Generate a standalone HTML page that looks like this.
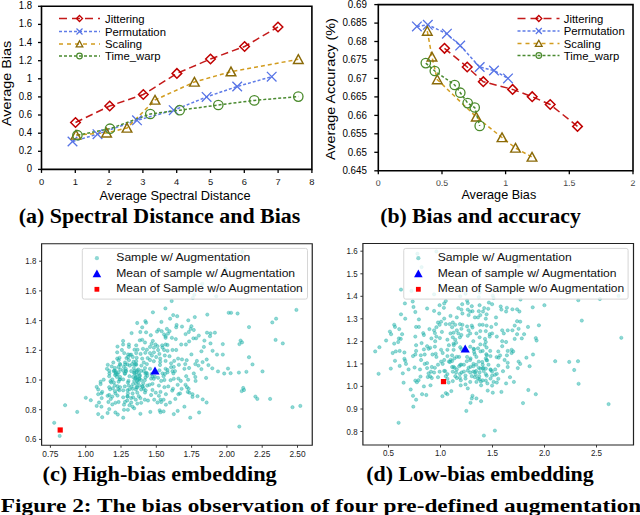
<!DOCTYPE html>
<html><head><meta charset="utf-8"><style>
html,body{margin:0;padding:0;background:#fff;width:640px;height:515px;overflow:hidden}
svg{display:block}
</style></head><body>
<svg width="640" height="515" viewBox="0 0 640 515">
<defs><clipPath id="cpa"><rect x="0" y="179.2" width="320" height="8"/></clipPath><clipPath id="cpb"><rect x="320" y="180.4" width="320" height="8"/></clipPath></defs>
<path d="M41.5 6.3H311.9V169.4H41.5Z" fill="none" stroke="#000" stroke-width="1.6"/>
<path d="M38.0 169.4H41.5" stroke="#000" stroke-width="1.3"/>
<text x="0" y="0" font-family='"Liberation Sans", sans-serif' font-size="9.6" font-weight="normal" fill="#000" text-anchor="end" transform="translate(32.0 172.4) scale(1 1.16)">0</text>
<path d="M38.0 151.3H41.5" stroke="#000" stroke-width="1.3"/>
<text x="0" y="0" font-family='"Liberation Sans", sans-serif' font-size="9.6" font-weight="normal" fill="#000" text-anchor="end" transform="translate(32.0 154.3) scale(1 1.16)">0.2</text>
<path d="M38.0 133.2H41.5" stroke="#000" stroke-width="1.3"/>
<text x="0" y="0" font-family='"Liberation Sans", sans-serif' font-size="9.6" font-weight="normal" fill="#000" text-anchor="end" transform="translate(32.0 136.2) scale(1 1.16)">0.4</text>
<path d="M38.0 115.0H41.5" stroke="#000" stroke-width="1.3"/>
<text x="0" y="0" font-family='"Liberation Sans", sans-serif' font-size="9.6" font-weight="normal" fill="#000" text-anchor="end" transform="translate(32.0 118.0) scale(1 1.16)">0.6</text>
<path d="M38.0 96.9H41.5" stroke="#000" stroke-width="1.3"/>
<text x="0" y="0" font-family='"Liberation Sans", sans-serif' font-size="9.6" font-weight="normal" fill="#000" text-anchor="end" transform="translate(32.0 99.9) scale(1 1.16)">0.8</text>
<path d="M38.0 78.8H41.5" stroke="#000" stroke-width="1.3"/>
<text x="0" y="0" font-family='"Liberation Sans", sans-serif' font-size="9.6" font-weight="normal" fill="#000" text-anchor="end" transform="translate(32.0 81.8) scale(1 1.16)">1</text>
<path d="M38.0 60.7H41.5" stroke="#000" stroke-width="1.3"/>
<text x="0" y="0" font-family='"Liberation Sans", sans-serif' font-size="9.6" font-weight="normal" fill="#000" text-anchor="end" transform="translate(32.0 63.7) scale(1 1.16)">1.2</text>
<path d="M38.0 42.5H41.5" stroke="#000" stroke-width="1.3"/>
<text x="0" y="0" font-family='"Liberation Sans", sans-serif' font-size="9.6" font-weight="normal" fill="#000" text-anchor="end" transform="translate(32.0 45.5) scale(1 1.16)">1.4</text>
<path d="M38.0 24.4H41.5" stroke="#000" stroke-width="1.3"/>
<text x="0" y="0" font-family='"Liberation Sans", sans-serif' font-size="9.6" font-weight="normal" fill="#000" text-anchor="end" transform="translate(32.0 27.4) scale(1 1.16)">1.6</text>
<path d="M38.0 6.3H41.5" stroke="#000" stroke-width="1.3"/>
<text x="0" y="0" font-family='"Liberation Sans", sans-serif' font-size="9.6" font-weight="normal" fill="#000" text-anchor="end" transform="translate(32.0 9.3) scale(1 1.16)">1.8</text>
<path d="M41.5 169.4V172.9" stroke="#000" stroke-width="1.3"/>
<text x="41.5" y="184.7" font-family='"Liberation Sans", sans-serif' font-size="9.4" font-weight="normal" fill="#111" text-anchor="middle" clip-path="url(#cpa)">0</text>
<path d="M75.3 169.4V172.9" stroke="#000" stroke-width="1.3"/>
<text x="75.3" y="184.7" font-family='"Liberation Sans", sans-serif' font-size="9.4" font-weight="normal" fill="#111" text-anchor="middle" clip-path="url(#cpa)">1</text>
<path d="M109.1 169.4V172.9" stroke="#000" stroke-width="1.3"/>
<text x="109.1" y="184.7" font-family='"Liberation Sans", sans-serif' font-size="9.4" font-weight="normal" fill="#111" text-anchor="middle" clip-path="url(#cpa)">2</text>
<path d="M142.9 169.4V172.9" stroke="#000" stroke-width="1.3"/>
<text x="142.9" y="184.7" font-family='"Liberation Sans", sans-serif' font-size="9.4" font-weight="normal" fill="#111" text-anchor="middle" clip-path="url(#cpa)">3</text>
<path d="M176.7 169.4V172.9" stroke="#000" stroke-width="1.3"/>
<text x="176.7" y="184.7" font-family='"Liberation Sans", sans-serif' font-size="9.4" font-weight="normal" fill="#111" text-anchor="middle" clip-path="url(#cpa)">4</text>
<path d="M210.5 169.4V172.9" stroke="#000" stroke-width="1.3"/>
<text x="210.5" y="184.7" font-family='"Liberation Sans", sans-serif' font-size="9.4" font-weight="normal" fill="#111" text-anchor="middle" clip-path="url(#cpa)">5</text>
<path d="M244.3 169.4V172.9" stroke="#000" stroke-width="1.3"/>
<text x="244.3" y="184.7" font-family='"Liberation Sans", sans-serif' font-size="9.4" font-weight="normal" fill="#111" text-anchor="middle" clip-path="url(#cpa)">6</text>
<path d="M278.1 169.4V172.9" stroke="#000" stroke-width="1.3"/>
<text x="278.1" y="184.7" font-family='"Liberation Sans", sans-serif' font-size="9.4" font-weight="normal" fill="#111" text-anchor="middle" clip-path="url(#cpa)">7</text>
<path d="M311.9 169.4V172.9" stroke="#000" stroke-width="1.3"/>
<text x="311.9" y="184.7" font-family='"Liberation Sans", sans-serif' font-size="9.4" font-weight="normal" fill="#111" text-anchor="middle" clip-path="url(#cpa)">8</text>
<text x="175" y="199.7" font-family='"Liberation Sans", sans-serif' font-size="13" font-weight="normal" fill="#000" text-anchor="middle" textLength="151" lengthAdjust="spacingAndGlyphs" >Average Spectral Distance</text>
<text x="0" y="0" font-family='"Liberation Sans", sans-serif' font-size="13" font-weight="normal" fill="#000" text-anchor="middle" textLength="85.3" lengthAdjust="spacingAndGlyphs" transform="translate(10.8 83.4) rotate(-90)">Average Bias</text>
<path d="M75.5 122.5L109.7 106.0L143.3 94.5L176.9 73.4L210.5 59.0L244.6 46.5L278.0 27.0" fill="none" stroke="#c41a1a" stroke-width="1.5" stroke-dasharray="7.5 4"/>
<path d="M72.5 141.5L97.5 134.2L137.0 120.3L173.8 110.2L206.6 96.9L237.2 86.5L271.7 76.7" fill="none" stroke="#5f7ce8" stroke-width="1.5" stroke-dasharray="3 2"/>
<path d="M76.0 135.0L106.6 132.9L127.0 128.0L155.0 100.0L194.4 82.0L231.0 71.7L298.3 59.3" fill="none" stroke="#d29c1e" stroke-width="1.5" stroke-dasharray="4 3"/>
<path d="M77.4 135.2L110.0 128.7L150.3 114.0L179.7 110.2L218.3 105.0L254.3 100.4L298.3 96.6" fill="none" stroke="#4a8a30" stroke-width="1.5" stroke-dasharray="3 2"/>
<path d="M75.5 117.7L80.3 122.5L75.5 127.3L70.7 122.5Z" fill="none" stroke="#c00000" stroke-width="1.5"/>
<path d="M109.7 101.2L114.5 106.0L109.7 110.8L104.9 106.0Z" fill="none" stroke="#c00000" stroke-width="1.5"/>
<path d="M143.3 89.7L148.1 94.5L143.3 99.3L138.5 94.5Z" fill="none" stroke="#c00000" stroke-width="1.5"/>
<path d="M176.9 68.6L181.7 73.4L176.9 78.2L172.1 73.4Z" fill="none" stroke="#c00000" stroke-width="1.5"/>
<path d="M210.5 54.2L215.3 59.0L210.5 63.8L205.7 59.0Z" fill="none" stroke="#c00000" stroke-width="1.5"/>
<path d="M244.6 41.7L249.4 46.5L244.6 51.3L239.8 46.5Z" fill="none" stroke="#c00000" stroke-width="1.5"/>
<path d="M278.0 22.2L282.8 27.0L278.0 31.8L273.2 27.0Z" fill="none" stroke="#c00000" stroke-width="1.5"/>
<path d="M67.7 136.7L77.3 146.3M77.3 136.7L67.7 146.3" stroke="#5673e6" stroke-width="1.3"/>
<path d="M92.7 129.4L102.3 139.0M102.3 129.4L92.7 139.0" stroke="#5673e6" stroke-width="1.3"/>
<path d="M132.2 115.5L141.8 125.1M141.8 115.5L132.2 125.1" stroke="#5673e6" stroke-width="1.3"/>
<path d="M168.9 105.4L178.6 115.0M178.6 105.4L168.9 115.0" stroke="#5673e6" stroke-width="1.3"/>
<path d="M201.8 92.1L211.4 101.7M211.4 92.1L201.8 101.7" stroke="#5673e6" stroke-width="1.3"/>
<path d="M232.4 81.7L242.0 91.3M242.0 81.7L232.4 91.3" stroke="#5673e6" stroke-width="1.3"/>
<path d="M266.9 71.9L276.5 81.5M276.5 71.9L266.9 81.5" stroke="#5673e6" stroke-width="1.3"/>
<path d="M76.0 130.4L80.8 139.1L71.2 139.1Z" fill="none" stroke="#8a6a08" stroke-width="1.45" stroke-linejoin="miter"/>
<path d="M106.6 128.3L111.4 137.0L101.8 137.0Z" fill="none" stroke="#8a6a08" stroke-width="1.45" stroke-linejoin="miter"/>
<path d="M127.0 123.4L131.8 132.1L122.2 132.1Z" fill="none" stroke="#8a6a08" stroke-width="1.45" stroke-linejoin="miter"/>
<path d="M155.0 95.4L159.8 104.1L150.2 104.1Z" fill="none" stroke="#8a6a08" stroke-width="1.45" stroke-linejoin="miter"/>
<path d="M194.4 77.4L199.2 86.1L189.6 86.1Z" fill="none" stroke="#8a6a08" stroke-width="1.45" stroke-linejoin="miter"/>
<path d="M231.0 67.1L235.8 75.8L226.2 75.8Z" fill="none" stroke="#8a6a08" stroke-width="1.45" stroke-linejoin="miter"/>
<path d="M298.3 54.7L303.1 63.4L293.5 63.4Z" fill="none" stroke="#8a6a08" stroke-width="1.45" stroke-linejoin="miter"/>
<circle cx="77.4" cy="135.2" r="4.7" fill="none" stroke="#4a8a2c" stroke-width="1.3"/>
<circle cx="110.0" cy="128.7" r="4.7" fill="none" stroke="#4a8a2c" stroke-width="1.3"/>
<circle cx="150.3" cy="114.0" r="4.7" fill="none" stroke="#4a8a2c" stroke-width="1.3"/>
<circle cx="179.7" cy="110.2" r="4.7" fill="none" stroke="#4a8a2c" stroke-width="1.3"/>
<circle cx="218.3" cy="105.0" r="4.7" fill="none" stroke="#4a8a2c" stroke-width="1.3"/>
<circle cx="254.3" cy="100.4" r="4.7" fill="none" stroke="#4a8a2c" stroke-width="1.3"/>
<circle cx="298.3" cy="96.6" r="4.7" fill="none" stroke="#4a8a2c" stroke-width="1.3"/>
<path d="M59 18.5H100" stroke="#c41a1a" stroke-width="1.5" stroke-dasharray="8 5"/>
<path d="M79.5 15.5L82.5 18.5L79.5 21.5L76.5 18.5Z" fill="none" stroke="#c00000" stroke-width="1.3"/>
<path d="M59 31.5H100" stroke="#5f7ce8" stroke-width="1.5" stroke-dasharray="3 2"/>
<path d="M76.5 28.5L82.5 34.5M82.5 28.5L76.5 34.5" stroke="#5673e6" stroke-width="1.2"/>
<path d="M59 44H100" stroke="#d29c1e" stroke-width="1.5" stroke-dasharray="4 4"/>
<path d="M79.5 40.8L82.8 46.9L76.2 46.9Z" fill="none" stroke="#8a6a08" stroke-width="1.3" stroke-linejoin="miter"/>
<path d="M59 56H100" stroke="#4a8a30" stroke-width="1.5" stroke-dasharray="3 2"/>
<circle cx="79.5" cy="56.0" r="2.8" fill="none" stroke="#4a8a2c" stroke-width="1.2"/>
<text x="105" y="22.5" font-family='"Liberation Sans", sans-serif' font-size="11.3" font-weight="normal" fill="#000" text-anchor="start" >Jittering</text>
<text x="105" y="35.5" font-family='"Liberation Sans", sans-serif' font-size="11.3" font-weight="normal" fill="#000" text-anchor="start" >Permutation</text>
<text x="105" y="48" font-family='"Liberation Sans", sans-serif' font-size="11.3" font-weight="normal" fill="#000" text-anchor="start" >Scaling</text>
<text x="105" y="60" font-family='"Liberation Sans", sans-serif' font-size="11.3" font-weight="normal" fill="#000" text-anchor="start" >Time_warp</text>
<path d="M378.3 4.6H633V170.75H378.3Z" fill="none" stroke="#000" stroke-width="1.6"/>
<path d="M374.3 170.8H378.3" stroke="#000" stroke-width="1.3"/>
<text x="0" y="0" font-family='"Liberation Sans", sans-serif' font-size="9.8" font-weight="normal" fill="#000" text-anchor="end" transform="translate(366.9 174.1) scale(1 1.15)">0.645</text>
<path d="M374.3 152.3H378.3" stroke="#000" stroke-width="1.3"/>
<text x="0" y="0" font-family='"Liberation Sans", sans-serif' font-size="9.8" font-weight="normal" fill="#000" text-anchor="end" transform="translate(366.9 155.6) scale(1 1.15)">0.65</text>
<path d="M374.3 133.8H378.3" stroke="#000" stroke-width="1.3"/>
<text x="0" y="0" font-family='"Liberation Sans", sans-serif' font-size="9.8" font-weight="normal" fill="#000" text-anchor="end" transform="translate(366.9 137.1) scale(1 1.15)">0.655</text>
<path d="M374.3 115.4H378.3" stroke="#000" stroke-width="1.3"/>
<text x="0" y="0" font-family='"Liberation Sans", sans-serif' font-size="9.8" font-weight="normal" fill="#000" text-anchor="end" transform="translate(366.9 118.7) scale(1 1.15)">0.66</text>
<path d="M374.3 96.9H378.3" stroke="#000" stroke-width="1.3"/>
<text x="0" y="0" font-family='"Liberation Sans", sans-serif' font-size="9.8" font-weight="normal" fill="#000" text-anchor="end" transform="translate(366.9 100.2) scale(1 1.15)">0.665</text>
<path d="M374.3 78.4H378.3" stroke="#000" stroke-width="1.3"/>
<text x="0" y="0" font-family='"Liberation Sans", sans-serif' font-size="9.8" font-weight="normal" fill="#000" text-anchor="end" transform="translate(366.9 81.7) scale(1 1.15)">0.67</text>
<path d="M374.3 60.0H378.3" stroke="#000" stroke-width="1.3"/>
<text x="0" y="0" font-family='"Liberation Sans", sans-serif' font-size="9.8" font-weight="normal" fill="#000" text-anchor="end" transform="translate(366.9 63.3) scale(1 1.15)">0.675</text>
<path d="M374.3 41.5H378.3" stroke="#000" stroke-width="1.3"/>
<text x="0" y="0" font-family='"Liberation Sans", sans-serif' font-size="9.8" font-weight="normal" fill="#000" text-anchor="end" transform="translate(366.9 44.8) scale(1 1.15)">0.68</text>
<path d="M374.3 23.1H378.3" stroke="#000" stroke-width="1.3"/>
<text x="0" y="0" font-family='"Liberation Sans", sans-serif' font-size="9.8" font-weight="normal" fill="#000" text-anchor="end" transform="translate(366.9 26.4) scale(1 1.15)">0.685</text>
<path d="M374.3 4.6H378.3" stroke="#000" stroke-width="1.3"/>
<text x="0" y="0" font-family='"Liberation Sans", sans-serif' font-size="9.8" font-weight="normal" fill="#000" text-anchor="end" transform="translate(366.9 7.9) scale(1 1.15)">0.69</text>
<path d="M378.3 170.75V174.25" stroke="#000" stroke-width="1.3"/>
<text x="378.3" y="185.8" font-family='"Liberation Sans", sans-serif' font-size="8.8" font-weight="normal" fill="#444" text-anchor="middle" clip-path="url(#cpb)">0</text>
<path d="M442.0 170.75V174.25" stroke="#000" stroke-width="1.3"/>
<text x="442.0" y="185.8" font-family='"Liberation Sans", sans-serif' font-size="8.8" font-weight="normal" fill="#444" text-anchor="middle" clip-path="url(#cpb)">0.5</text>
<path d="M505.6 170.75V174.25" stroke="#000" stroke-width="1.3"/>
<text x="505.6" y="185.8" font-family='"Liberation Sans", sans-serif' font-size="8.8" font-weight="normal" fill="#444" text-anchor="middle" clip-path="url(#cpb)">1</text>
<path d="M569.3 170.75V174.25" stroke="#000" stroke-width="1.3"/>
<text x="569.3" y="185.8" font-family='"Liberation Sans", sans-serif' font-size="8.8" font-weight="normal" fill="#444" text-anchor="middle" clip-path="url(#cpb)">1.5</text>
<path d="M633.0 170.75V174.25" stroke="#000" stroke-width="1.3"/>
<text x="633.0" y="185.8" font-family='"Liberation Sans", sans-serif' font-size="8.8" font-weight="normal" fill="#444" text-anchor="middle" clip-path="url(#cpb)">2</text>
<text x="498.8" y="198.7" font-family='"Liberation Sans", sans-serif' font-size="13" font-weight="normal" fill="#000" text-anchor="middle" textLength="74.8" lengthAdjust="spacingAndGlyphs" >Average Bias</text>
<text x="0" y="0" font-family='"Liberation Sans", sans-serif' font-size="13" font-weight="normal" fill="#000" text-anchor="middle" textLength="142" lengthAdjust="spacingAndGlyphs" transform="translate(335.2 89.1) rotate(-90)">Average Accuracy (%)</text>
<path d="M444.5 48.3L467.2 67.0L483.3 81.7L512.6 89.4L532.2 96.7L550.2 104.5L577.5 126.4" fill="none" stroke="#c41a1a" stroke-width="1.5" stroke-dasharray="7.5 4"/>
<path d="M416.9 26.4L427.8 24.8L446.9 33.8L460.2 45.6L479.7 67.0L494.0 70.5L508.0 78.4" fill="none" stroke="#5f7ce8" stroke-width="1.5" stroke-dasharray="3 2"/>
<path d="M427.3 31.1L432.0 56.9L437.3 79.6L476.2 116.9L502.0 137.5L515.5 148.0L532.0 157.0" fill="none" stroke="#d29c1e" stroke-width="1.5" stroke-dasharray="4 3"/>
<path d="M425.8 63.1L434.8 71.0L454.7 85.0L460.3 92.7L467.7 103.1L474.7 107.5L479.7 125.9" fill="none" stroke="#4a8a30" stroke-width="1.5" stroke-dasharray="3 2"/>
<path d="M444.5 43.5L449.3 48.3L444.5 53.1L439.7 48.3Z" fill="none" stroke="#c00000" stroke-width="1.5"/>
<path d="M467.2 62.2L472.0 67.0L467.2 71.8L462.4 67.0Z" fill="none" stroke="#c00000" stroke-width="1.5"/>
<path d="M483.3 76.9L488.1 81.7L483.3 86.5L478.5 81.7Z" fill="none" stroke="#c00000" stroke-width="1.5"/>
<path d="M512.6 84.6L517.4 89.4L512.6 94.2L507.8 89.4Z" fill="none" stroke="#c00000" stroke-width="1.5"/>
<path d="M532.2 91.9L537.0 96.7L532.2 101.5L527.4 96.7Z" fill="none" stroke="#c00000" stroke-width="1.5"/>
<path d="M550.2 99.7L555.0 104.5L550.2 109.3L545.4 104.5Z" fill="none" stroke="#c00000" stroke-width="1.5"/>
<path d="M577.5 121.6L582.3 126.4L577.5 131.2L572.7 126.4Z" fill="none" stroke="#c00000" stroke-width="1.5"/>
<path d="M412.1 21.6L421.7 31.2M421.7 21.6L412.1 31.2" stroke="#5673e6" stroke-width="1.3"/>
<path d="M423.0 20.0L432.6 29.6M432.6 20.0L423.0 29.6" stroke="#5673e6" stroke-width="1.3"/>
<path d="M442.1 28.9L451.7 38.5M451.7 28.9L442.1 38.5" stroke="#5673e6" stroke-width="1.3"/>
<path d="M455.4 40.8L465.0 50.4M465.0 40.8L455.4 50.4" stroke="#5673e6" stroke-width="1.3"/>
<path d="M474.9 62.2L484.5 71.8M484.5 62.2L474.9 71.8" stroke="#5673e6" stroke-width="1.3"/>
<path d="M489.2 65.7L498.8 75.3M498.8 65.7L489.2 75.3" stroke="#5673e6" stroke-width="1.3"/>
<path d="M503.2 73.6L512.8 83.2M512.8 73.6L503.2 83.2" stroke="#5673e6" stroke-width="1.3"/>
<path d="M427.3 26.5L432.1 35.2L422.5 35.2Z" fill="none" stroke="#8a6a08" stroke-width="1.45" stroke-linejoin="miter"/>
<path d="M432.0 52.3L436.8 61.0L427.2 61.0Z" fill="none" stroke="#8a6a08" stroke-width="1.45" stroke-linejoin="miter"/>
<path d="M437.3 75.0L442.1 83.7L432.5 83.7Z" fill="none" stroke="#8a6a08" stroke-width="1.45" stroke-linejoin="miter"/>
<path d="M476.2 112.3L481.0 121.0L471.5 121.0Z" fill="none" stroke="#8a6a08" stroke-width="1.45" stroke-linejoin="miter"/>
<path d="M502.0 132.9L506.8 141.6L497.2 141.6Z" fill="none" stroke="#8a6a08" stroke-width="1.45" stroke-linejoin="miter"/>
<path d="M515.5 143.4L520.3 152.1L510.7 152.1Z" fill="none" stroke="#8a6a08" stroke-width="1.45" stroke-linejoin="miter"/>
<path d="M532.0 152.4L536.8 161.1L527.2 161.1Z" fill="none" stroke="#8a6a08" stroke-width="1.45" stroke-linejoin="miter"/>
<circle cx="425.8" cy="63.1" r="4.7" fill="none" stroke="#4a8a2c" stroke-width="1.3"/>
<circle cx="434.8" cy="71.0" r="4.7" fill="none" stroke="#4a8a2c" stroke-width="1.3"/>
<circle cx="454.7" cy="85.0" r="4.7" fill="none" stroke="#4a8a2c" stroke-width="1.3"/>
<circle cx="460.3" cy="92.7" r="4.7" fill="none" stroke="#4a8a2c" stroke-width="1.3"/>
<circle cx="467.7" cy="103.1" r="4.7" fill="none" stroke="#4a8a2c" stroke-width="1.3"/>
<circle cx="474.7" cy="107.5" r="4.7" fill="none" stroke="#4a8a2c" stroke-width="1.3"/>
<circle cx="479.7" cy="125.9" r="4.7" fill="none" stroke="#4a8a2c" stroke-width="1.3"/>
<path d="M517.5 18.5H559.5" stroke="#c41a1a" stroke-width="1.5" stroke-dasharray="8 5"/>
<path d="M538.8 15.5L541.8 18.5L538.8 21.5L535.8 18.5Z" fill="none" stroke="#c00000" stroke-width="1.3"/>
<path d="M517.5 31H559.5" stroke="#5f7ce8" stroke-width="1.5" stroke-dasharray="3 2"/>
<path d="M535.8 28.0L541.8 34.0M541.8 28.0L535.8 34.0" stroke="#5673e6" stroke-width="1.2"/>
<path d="M517.5 43.5H559.5" stroke="#d29c1e" stroke-width="1.5" stroke-dasharray="4 4"/>
<path d="M538.8 40.3L542.1 46.4L535.4 46.4Z" fill="none" stroke="#8a6a08" stroke-width="1.3" stroke-linejoin="miter"/>
<path d="M517.5 55.5H559.5" stroke="#4a8a30" stroke-width="1.5" stroke-dasharray="3 2"/>
<circle cx="538.8" cy="55.5" r="2.8" fill="none" stroke="#4a8a2c" stroke-width="1.2"/>
<text x="563.75" y="22.5" font-family='"Liberation Sans", sans-serif' font-size="11.3" font-weight="normal" fill="#000" text-anchor="start" >Jittering</text>
<text x="563.75" y="35" font-family='"Liberation Sans", sans-serif' font-size="11.3" font-weight="normal" fill="#000" text-anchor="start" >Permutation</text>
<text x="563.75" y="47.5" font-family='"Liberation Sans", sans-serif' font-size="11.3" font-weight="normal" fill="#000" text-anchor="start" >Scaling</text>
<text x="563.75" y="59.5" font-family='"Liberation Sans", sans-serif' font-size="11.3" font-weight="normal" fill="#000" text-anchor="start" >Time_warp</text>
<circle cx="225.6" cy="269.0" r="1.65" fill="#20b2aa" fill-opacity="0.5" stroke="#20b2aa" stroke-opacity="0.5" stroke-width="0.7"/>
<circle cx="202.2" cy="283.8" r="1.65" fill="#20b2aa" fill-opacity="0.5" stroke="#20b2aa" stroke-opacity="0.5" stroke-width="0.7"/>
<circle cx="194.3" cy="294.8" r="1.65" fill="#20b2aa" fill-opacity="0.5" stroke="#20b2aa" stroke-opacity="0.5" stroke-width="0.7"/>
<circle cx="192.8" cy="297.9" r="1.65" fill="#20b2aa" fill-opacity="0.5" stroke="#20b2aa" stroke-opacity="0.5" stroke-width="0.7"/>
<circle cx="216.2" cy="296.3" r="1.65" fill="#20b2aa" fill-opacity="0.5" stroke="#20b2aa" stroke-opacity="0.5" stroke-width="0.7"/>
<circle cx="171.7" cy="301.0" r="1.65" fill="#20b2aa" fill-opacity="0.5" stroke="#20b2aa" stroke-opacity="0.5" stroke-width="0.7"/>
<circle cx="165.4" cy="308.4" r="1.65" fill="#20b2aa" fill-opacity="0.5" stroke="#20b2aa" stroke-opacity="0.5" stroke-width="0.7"/>
<circle cx="152.9" cy="312.3" r="1.65" fill="#20b2aa" fill-opacity="0.5" stroke="#20b2aa" stroke-opacity="0.5" stroke-width="0.7"/>
<circle cx="173.2" cy="315.1" r="1.65" fill="#20b2aa" fill-opacity="0.5" stroke="#20b2aa" stroke-opacity="0.5" stroke-width="0.7"/>
<circle cx="177.2" cy="316.2" r="1.65" fill="#20b2aa" fill-opacity="0.5" stroke="#20b2aa" stroke-opacity="0.5" stroke-width="0.7"/>
<circle cx="170.1" cy="318.7" r="1.65" fill="#20b2aa" fill-opacity="0.5" stroke="#20b2aa" stroke-opacity="0.5" stroke-width="0.7"/>
<circle cx="194.8" cy="317.1" r="1.65" fill="#20b2aa" fill-opacity="0.5" stroke="#20b2aa" stroke-opacity="0.5" stroke-width="0.7"/>
<circle cx="207.3" cy="314.6" r="1.65" fill="#20b2aa" fill-opacity="0.5" stroke="#20b2aa" stroke-opacity="0.5" stroke-width="0.7"/>
<circle cx="228.7" cy="312.8" r="1.65" fill="#20b2aa" fill-opacity="0.5" stroke="#20b2aa" stroke-opacity="0.5" stroke-width="0.7"/>
<circle cx="231.1" cy="312.8" r="1.65" fill="#20b2aa" fill-opacity="0.5" stroke="#20b2aa" stroke-opacity="0.5" stroke-width="0.7"/>
<circle cx="237.6" cy="313.5" r="1.65" fill="#20b2aa" fill-opacity="0.5" stroke="#20b2aa" stroke-opacity="0.5" stroke-width="0.7"/>
<circle cx="242.5" cy="251.8" r="1.65" fill="#20b2aa" fill-opacity="0.5" stroke="#20b2aa" stroke-opacity="0.5" stroke-width="0.7"/>
<circle cx="296.4" cy="309.9" r="1.65" fill="#20b2aa" fill-opacity="0.5" stroke="#20b2aa" stroke-opacity="0.5" stroke-width="0.7"/>
<circle cx="276.1" cy="318.7" r="1.65" fill="#20b2aa" fill-opacity="0.5" stroke="#20b2aa" stroke-opacity="0.5" stroke-width="0.7"/>
<circle cx="188.3" cy="320.3" r="1.65" fill="#20b2aa" fill-opacity="0.5" stroke="#20b2aa" stroke-opacity="0.5" stroke-width="0.7"/>
<circle cx="137.2" cy="323.0" r="1.65" fill="#20b2aa" fill-opacity="0.5" stroke="#20b2aa" stroke-opacity="0.5" stroke-width="0.7"/>
<circle cx="145.3" cy="321.1" r="1.65" fill="#20b2aa" fill-opacity="0.5" stroke="#20b2aa" stroke-opacity="0.5" stroke-width="0.7"/>
<circle cx="146.1" cy="322.7" r="1.65" fill="#20b2aa" fill-opacity="0.5" stroke="#20b2aa" stroke-opacity="0.5" stroke-width="0.7"/>
<circle cx="161.4" cy="321.9" r="1.65" fill="#20b2aa" fill-opacity="0.5" stroke="#20b2aa" stroke-opacity="0.5" stroke-width="0.7"/>
<circle cx="176.6" cy="325.0" r="1.65" fill="#20b2aa" fill-opacity="0.5" stroke="#20b2aa" stroke-opacity="0.5" stroke-width="0.7"/>
<circle cx="176.2" cy="327.3" r="1.65" fill="#20b2aa" fill-opacity="0.5" stroke="#20b2aa" stroke-opacity="0.5" stroke-width="0.7"/>
<circle cx="182.0" cy="326.6" r="1.65" fill="#20b2aa" fill-opacity="0.5" stroke="#20b2aa" stroke-opacity="0.5" stroke-width="0.7"/>
<circle cx="191.4" cy="326.2" r="1.65" fill="#20b2aa" fill-opacity="0.5" stroke="#20b2aa" stroke-opacity="0.5" stroke-width="0.7"/>
<circle cx="142.2" cy="327.3" r="1.65" fill="#20b2aa" fill-opacity="0.5" stroke="#20b2aa" stroke-opacity="0.5" stroke-width="0.7"/>
<circle cx="166.9" cy="328.9" r="1.65" fill="#20b2aa" fill-opacity="0.5" stroke="#20b2aa" stroke-opacity="0.5" stroke-width="0.7"/>
<circle cx="158.6" cy="329.7" r="1.65" fill="#20b2aa" fill-opacity="0.5" stroke="#20b2aa" stroke-opacity="0.5" stroke-width="0.7"/>
<circle cx="157.0" cy="331.6" r="1.65" fill="#20b2aa" fill-opacity="0.5" stroke="#20b2aa" stroke-opacity="0.5" stroke-width="0.7"/>
<circle cx="161.7" cy="331.2" r="1.65" fill="#20b2aa" fill-opacity="0.5" stroke="#20b2aa" stroke-opacity="0.5" stroke-width="0.7"/>
<circle cx="169.5" cy="331.2" r="1.65" fill="#20b2aa" fill-opacity="0.5" stroke="#20b2aa" stroke-opacity="0.5" stroke-width="0.7"/>
<circle cx="190.6" cy="328.9" r="1.65" fill="#20b2aa" fill-opacity="0.5" stroke="#20b2aa" stroke-opacity="0.5" stroke-width="0.7"/>
<circle cx="193.8" cy="330.0" r="1.65" fill="#20b2aa" fill-opacity="0.5" stroke="#20b2aa" stroke-opacity="0.5" stroke-width="0.7"/>
<circle cx="131.6" cy="333.1" r="1.65" fill="#20b2aa" fill-opacity="0.5" stroke="#20b2aa" stroke-opacity="0.5" stroke-width="0.7"/>
<circle cx="140.3" cy="332.0" r="1.65" fill="#20b2aa" fill-opacity="0.5" stroke="#20b2aa" stroke-opacity="0.5" stroke-width="0.7"/>
<circle cx="146.1" cy="332.3" r="1.65" fill="#20b2aa" fill-opacity="0.5" stroke="#20b2aa" stroke-opacity="0.5" stroke-width="0.7"/>
<circle cx="150.8" cy="335.2" r="1.65" fill="#20b2aa" fill-opacity="0.5" stroke="#20b2aa" stroke-opacity="0.5" stroke-width="0.7"/>
<circle cx="164.1" cy="334.4" r="1.65" fill="#20b2aa" fill-opacity="0.5" stroke="#20b2aa" stroke-opacity="0.5" stroke-width="0.7"/>
<circle cx="165.6" cy="336.2" r="1.65" fill="#20b2aa" fill-opacity="0.5" stroke="#20b2aa" stroke-opacity="0.5" stroke-width="0.7"/>
<circle cx="168.0" cy="333.6" r="1.65" fill="#20b2aa" fill-opacity="0.5" stroke="#20b2aa" stroke-opacity="0.5" stroke-width="0.7"/>
<circle cx="185.6" cy="334.1" r="1.65" fill="#20b2aa" fill-opacity="0.5" stroke="#20b2aa" stroke-opacity="0.5" stroke-width="0.7"/>
<circle cx="188.8" cy="332.0" r="1.65" fill="#20b2aa" fill-opacity="0.5" stroke="#20b2aa" stroke-opacity="0.5" stroke-width="0.7"/>
<circle cx="198.8" cy="335.6" r="1.65" fill="#20b2aa" fill-opacity="0.5" stroke="#20b2aa" stroke-opacity="0.5" stroke-width="0.7"/>
<circle cx="165.6" cy="337.8" r="1.65" fill="#20b2aa" fill-opacity="0.5" stroke="#20b2aa" stroke-opacity="0.5" stroke-width="0.7"/>
<circle cx="171.9" cy="337.8" r="1.65" fill="#20b2aa" fill-opacity="0.5" stroke="#20b2aa" stroke-opacity="0.5" stroke-width="0.7"/>
<circle cx="175.8" cy="339.1" r="1.65" fill="#20b2aa" fill-opacity="0.5" stroke="#20b2aa" stroke-opacity="0.5" stroke-width="0.7"/>
<circle cx="193.4" cy="338.3" r="1.65" fill="#20b2aa" fill-opacity="0.5" stroke="#20b2aa" stroke-opacity="0.5" stroke-width="0.7"/>
<circle cx="196.1" cy="338.3" r="1.65" fill="#20b2aa" fill-opacity="0.5" stroke="#20b2aa" stroke-opacity="0.5" stroke-width="0.7"/>
<circle cx="123.1" cy="340.9" r="1.65" fill="#20b2aa" fill-opacity="0.5" stroke="#20b2aa" stroke-opacity="0.5" stroke-width="0.7"/>
<circle cx="139.8" cy="340.3" r="1.65" fill="#20b2aa" fill-opacity="0.5" stroke="#20b2aa" stroke-opacity="0.5" stroke-width="0.7"/>
<circle cx="142.2" cy="339.8" r="1.65" fill="#20b2aa" fill-opacity="0.5" stroke="#20b2aa" stroke-opacity="0.5" stroke-width="0.7"/>
<circle cx="145.0" cy="342.5" r="1.65" fill="#20b2aa" fill-opacity="0.5" stroke="#20b2aa" stroke-opacity="0.5" stroke-width="0.7"/>
<circle cx="152.8" cy="340.9" r="1.65" fill="#20b2aa" fill-opacity="0.5" stroke="#20b2aa" stroke-opacity="0.5" stroke-width="0.7"/>
<circle cx="123.1" cy="344.5" r="1.65" fill="#20b2aa" fill-opacity="0.5" stroke="#20b2aa" stroke-opacity="0.5" stroke-width="0.7"/>
<circle cx="128.9" cy="344.5" r="1.65" fill="#20b2aa" fill-opacity="0.5" stroke="#20b2aa" stroke-opacity="0.5" stroke-width="0.7"/>
<circle cx="136.2" cy="345.3" r="1.65" fill="#20b2aa" fill-opacity="0.5" stroke="#20b2aa" stroke-opacity="0.5" stroke-width="0.7"/>
<circle cx="151.6" cy="343.8" r="1.65" fill="#20b2aa" fill-opacity="0.5" stroke="#20b2aa" stroke-opacity="0.5" stroke-width="0.7"/>
<circle cx="155.5" cy="344.5" r="1.65" fill="#20b2aa" fill-opacity="0.5" stroke="#20b2aa" stroke-opacity="0.5" stroke-width="0.7"/>
<circle cx="162.2" cy="345.3" r="1.65" fill="#20b2aa" fill-opacity="0.5" stroke="#20b2aa" stroke-opacity="0.5" stroke-width="0.7"/>
<circle cx="165.6" cy="344.5" r="1.65" fill="#20b2aa" fill-opacity="0.5" stroke="#20b2aa" stroke-opacity="0.5" stroke-width="0.7"/>
<circle cx="167.5" cy="345.0" r="1.65" fill="#20b2aa" fill-opacity="0.5" stroke="#20b2aa" stroke-opacity="0.5" stroke-width="0.7"/>
<circle cx="181.2" cy="344.5" r="1.65" fill="#20b2aa" fill-opacity="0.5" stroke="#20b2aa" stroke-opacity="0.5" stroke-width="0.7"/>
<circle cx="185.9" cy="344.5" r="1.65" fill="#20b2aa" fill-opacity="0.5" stroke="#20b2aa" stroke-opacity="0.5" stroke-width="0.7"/>
<circle cx="189.1" cy="341.4" r="1.65" fill="#20b2aa" fill-opacity="0.5" stroke="#20b2aa" stroke-opacity="0.5" stroke-width="0.7"/>
<circle cx="117.5" cy="346.6" r="1.65" fill="#20b2aa" fill-opacity="0.5" stroke="#20b2aa" stroke-opacity="0.5" stroke-width="0.7"/>
<circle cx="121.9" cy="350.0" r="1.65" fill="#20b2aa" fill-opacity="0.5" stroke="#20b2aa" stroke-opacity="0.5" stroke-width="0.7"/>
<circle cx="128.9" cy="346.9" r="1.65" fill="#20b2aa" fill-opacity="0.5" stroke="#20b2aa" stroke-opacity="0.5" stroke-width="0.7"/>
<circle cx="137.5" cy="349.7" r="1.65" fill="#20b2aa" fill-opacity="0.5" stroke="#20b2aa" stroke-opacity="0.5" stroke-width="0.7"/>
<circle cx="143.0" cy="348.8" r="1.65" fill="#20b2aa" fill-opacity="0.5" stroke="#20b2aa" stroke-opacity="0.5" stroke-width="0.7"/>
<circle cx="146.9" cy="349.7" r="1.65" fill="#20b2aa" fill-opacity="0.5" stroke="#20b2aa" stroke-opacity="0.5" stroke-width="0.7"/>
<circle cx="153.9" cy="347.7" r="1.65" fill="#20b2aa" fill-opacity="0.5" stroke="#20b2aa" stroke-opacity="0.5" stroke-width="0.7"/>
<circle cx="158.1" cy="350.0" r="1.65" fill="#20b2aa" fill-opacity="0.5" stroke="#20b2aa" stroke-opacity="0.5" stroke-width="0.7"/>
<circle cx="164.1" cy="350.0" r="1.65" fill="#20b2aa" fill-opacity="0.5" stroke="#20b2aa" stroke-opacity="0.5" stroke-width="0.7"/>
<circle cx="167.5" cy="350.8" r="1.65" fill="#20b2aa" fill-opacity="0.5" stroke="#20b2aa" stroke-opacity="0.5" stroke-width="0.7"/>
<circle cx="176.2" cy="350.0" r="1.65" fill="#20b2aa" fill-opacity="0.5" stroke="#20b2aa" stroke-opacity="0.5" stroke-width="0.7"/>
<circle cx="117.2" cy="352.3" r="1.65" fill="#20b2aa" fill-opacity="0.5" stroke="#20b2aa" stroke-opacity="0.5" stroke-width="0.7"/>
<circle cx="124.2" cy="353.1" r="1.65" fill="#20b2aa" fill-opacity="0.5" stroke="#20b2aa" stroke-opacity="0.5" stroke-width="0.7"/>
<circle cx="131.2" cy="354.7" r="1.65" fill="#20b2aa" fill-opacity="0.5" stroke="#20b2aa" stroke-opacity="0.5" stroke-width="0.7"/>
<circle cx="140.6" cy="353.9" r="1.65" fill="#20b2aa" fill-opacity="0.5" stroke="#20b2aa" stroke-opacity="0.5" stroke-width="0.7"/>
<circle cx="145.3" cy="352.8" r="1.65" fill="#20b2aa" fill-opacity="0.5" stroke="#20b2aa" stroke-opacity="0.5" stroke-width="0.7"/>
<circle cx="150.0" cy="353.1" r="1.65" fill="#20b2aa" fill-opacity="0.5" stroke="#20b2aa" stroke-opacity="0.5" stroke-width="0.7"/>
<circle cx="153.9" cy="352.3" r="1.65" fill="#20b2aa" fill-opacity="0.5" stroke="#20b2aa" stroke-opacity="0.5" stroke-width="0.7"/>
<circle cx="159.4" cy="353.9" r="1.65" fill="#20b2aa" fill-opacity="0.5" stroke="#20b2aa" stroke-opacity="0.5" stroke-width="0.7"/>
<circle cx="164.8" cy="355.5" r="1.65" fill="#20b2aa" fill-opacity="0.5" stroke="#20b2aa" stroke-opacity="0.5" stroke-width="0.7"/>
<circle cx="169.5" cy="356.2" r="1.65" fill="#20b2aa" fill-opacity="0.5" stroke="#20b2aa" stroke-opacity="0.5" stroke-width="0.7"/>
<circle cx="191.4" cy="354.4" r="1.65" fill="#20b2aa" fill-opacity="0.5" stroke="#20b2aa" stroke-opacity="0.5" stroke-width="0.7"/>
<circle cx="117.2" cy="358.6" r="1.65" fill="#20b2aa" fill-opacity="0.5" stroke="#20b2aa" stroke-opacity="0.5" stroke-width="0.7"/>
<circle cx="119.5" cy="357.8" r="1.65" fill="#20b2aa" fill-opacity="0.5" stroke="#20b2aa" stroke-opacity="0.5" stroke-width="0.7"/>
<circle cx="128.1" cy="357.0" r="1.65" fill="#20b2aa" fill-opacity="0.5" stroke="#20b2aa" stroke-opacity="0.5" stroke-width="0.7"/>
<circle cx="132.8" cy="357.0" r="1.65" fill="#20b2aa" fill-opacity="0.5" stroke="#20b2aa" stroke-opacity="0.5" stroke-width="0.7"/>
<circle cx="136.7" cy="357.8" r="1.65" fill="#20b2aa" fill-opacity="0.5" stroke="#20b2aa" stroke-opacity="0.5" stroke-width="0.7"/>
<circle cx="142.2" cy="358.6" r="1.65" fill="#20b2aa" fill-opacity="0.5" stroke="#20b2aa" stroke-opacity="0.5" stroke-width="0.7"/>
<circle cx="147.7" cy="358.1" r="1.65" fill="#20b2aa" fill-opacity="0.5" stroke="#20b2aa" stroke-opacity="0.5" stroke-width="0.7"/>
<circle cx="156.2" cy="357.0" r="1.65" fill="#20b2aa" fill-opacity="0.5" stroke="#20b2aa" stroke-opacity="0.5" stroke-width="0.7"/>
<circle cx="160.2" cy="358.6" r="1.65" fill="#20b2aa" fill-opacity="0.5" stroke="#20b2aa" stroke-opacity="0.5" stroke-width="0.7"/>
<circle cx="178.1" cy="358.6" r="1.65" fill="#20b2aa" fill-opacity="0.5" stroke="#20b2aa" stroke-opacity="0.5" stroke-width="0.7"/>
<circle cx="182.0" cy="359.4" r="1.65" fill="#20b2aa" fill-opacity="0.5" stroke="#20b2aa" stroke-opacity="0.5" stroke-width="0.7"/>
<circle cx="186.7" cy="360.2" r="1.65" fill="#20b2aa" fill-opacity="0.5" stroke="#20b2aa" stroke-opacity="0.5" stroke-width="0.7"/>
<circle cx="196.9" cy="360.9" r="1.65" fill="#20b2aa" fill-opacity="0.5" stroke="#20b2aa" stroke-opacity="0.5" stroke-width="0.7"/>
<circle cx="128.9" cy="360.2" r="1.65" fill="#20b2aa" fill-opacity="0.5" stroke="#20b2aa" stroke-opacity="0.5" stroke-width="0.7"/>
<circle cx="133.6" cy="361.7" r="1.65" fill="#20b2aa" fill-opacity="0.5" stroke="#20b2aa" stroke-opacity="0.5" stroke-width="0.7"/>
<circle cx="125.0" cy="362.5" r="1.65" fill="#20b2aa" fill-opacity="0.5" stroke="#20b2aa" stroke-opacity="0.5" stroke-width="0.7"/>
<circle cx="113.3" cy="362.5" r="1.65" fill="#20b2aa" fill-opacity="0.5" stroke="#20b2aa" stroke-opacity="0.5" stroke-width="0.7"/>
<circle cx="107.8" cy="364.8" r="1.65" fill="#20b2aa" fill-opacity="0.5" stroke="#20b2aa" stroke-opacity="0.5" stroke-width="0.7"/>
<circle cx="111.7" cy="366.4" r="1.65" fill="#20b2aa" fill-opacity="0.5" stroke="#20b2aa" stroke-opacity="0.5" stroke-width="0.7"/>
<circle cx="107.0" cy="368.8" r="1.65" fill="#20b2aa" fill-opacity="0.5" stroke="#20b2aa" stroke-opacity="0.5" stroke-width="0.7"/>
<circle cx="114.8" cy="368.0" r="1.65" fill="#20b2aa" fill-opacity="0.5" stroke="#20b2aa" stroke-opacity="0.5" stroke-width="0.7"/>
<circle cx="120.3" cy="364.8" r="1.65" fill="#20b2aa" fill-opacity="0.5" stroke="#20b2aa" stroke-opacity="0.5" stroke-width="0.7"/>
<circle cx="129.7" cy="365.6" r="1.65" fill="#20b2aa" fill-opacity="0.5" stroke="#20b2aa" stroke-opacity="0.5" stroke-width="0.7"/>
<circle cx="135.9" cy="364.1" r="1.65" fill="#20b2aa" fill-opacity="0.5" stroke="#20b2aa" stroke-opacity="0.5" stroke-width="0.7"/>
<circle cx="141.4" cy="365.6" r="1.65" fill="#20b2aa" fill-opacity="0.5" stroke="#20b2aa" stroke-opacity="0.5" stroke-width="0.7"/>
<circle cx="146.9" cy="364.1" r="1.65" fill="#20b2aa" fill-opacity="0.5" stroke="#20b2aa" stroke-opacity="0.5" stroke-width="0.7"/>
<circle cx="160.2" cy="361.7" r="1.65" fill="#20b2aa" fill-opacity="0.5" stroke="#20b2aa" stroke-opacity="0.5" stroke-width="0.7"/>
<circle cx="165.6" cy="360.9" r="1.65" fill="#20b2aa" fill-opacity="0.5" stroke="#20b2aa" stroke-opacity="0.5" stroke-width="0.7"/>
<circle cx="171.1" cy="363.3" r="1.65" fill="#20b2aa" fill-opacity="0.5" stroke="#20b2aa" stroke-opacity="0.5" stroke-width="0.7"/>
<circle cx="174.2" cy="360.9" r="1.65" fill="#20b2aa" fill-opacity="0.5" stroke="#20b2aa" stroke-opacity="0.5" stroke-width="0.7"/>
<circle cx="178.9" cy="364.8" r="1.65" fill="#20b2aa" fill-opacity="0.5" stroke="#20b2aa" stroke-opacity="0.5" stroke-width="0.7"/>
<circle cx="185.2" cy="364.1" r="1.65" fill="#20b2aa" fill-opacity="0.5" stroke="#20b2aa" stroke-opacity="0.5" stroke-width="0.7"/>
<circle cx="189.1" cy="368.0" r="1.65" fill="#20b2aa" fill-opacity="0.5" stroke="#20b2aa" stroke-opacity="0.5" stroke-width="0.7"/>
<circle cx="195.3" cy="364.1" r="1.65" fill="#20b2aa" fill-opacity="0.5" stroke="#20b2aa" stroke-opacity="0.5" stroke-width="0.7"/>
<circle cx="198.4" cy="365.6" r="1.65" fill="#20b2aa" fill-opacity="0.5" stroke="#20b2aa" stroke-opacity="0.5" stroke-width="0.7"/>
<circle cx="120.3" cy="369.5" r="1.65" fill="#20b2aa" fill-opacity="0.5" stroke="#20b2aa" stroke-opacity="0.5" stroke-width="0.7"/>
<circle cx="125.8" cy="368.8" r="1.65" fill="#20b2aa" fill-opacity="0.5" stroke="#20b2aa" stroke-opacity="0.5" stroke-width="0.7"/>
<circle cx="131.2" cy="371.1" r="1.65" fill="#20b2aa" fill-opacity="0.5" stroke="#20b2aa" stroke-opacity="0.5" stroke-width="0.7"/>
<circle cx="138.3" cy="369.5" r="1.65" fill="#20b2aa" fill-opacity="0.5" stroke="#20b2aa" stroke-opacity="0.5" stroke-width="0.7"/>
<circle cx="143.8" cy="371.1" r="1.65" fill="#20b2aa" fill-opacity="0.5" stroke="#20b2aa" stroke-opacity="0.5" stroke-width="0.7"/>
<circle cx="150.0" cy="368.8" r="1.65" fill="#20b2aa" fill-opacity="0.5" stroke="#20b2aa" stroke-opacity="0.5" stroke-width="0.7"/>
<circle cx="159.4" cy="370.3" r="1.65" fill="#20b2aa" fill-opacity="0.5" stroke="#20b2aa" stroke-opacity="0.5" stroke-width="0.7"/>
<circle cx="165.6" cy="368.8" r="1.65" fill="#20b2aa" fill-opacity="0.5" stroke="#20b2aa" stroke-opacity="0.5" stroke-width="0.7"/>
<circle cx="171.1" cy="367.2" r="1.65" fill="#20b2aa" fill-opacity="0.5" stroke="#20b2aa" stroke-opacity="0.5" stroke-width="0.7"/>
<circle cx="175.0" cy="371.1" r="1.65" fill="#20b2aa" fill-opacity="0.5" stroke="#20b2aa" stroke-opacity="0.5" stroke-width="0.7"/>
<circle cx="184.4" cy="368.8" r="1.65" fill="#20b2aa" fill-opacity="0.5" stroke="#20b2aa" stroke-opacity="0.5" stroke-width="0.7"/>
<circle cx="173.4" cy="373.4" r="1.65" fill="#20b2aa" fill-opacity="0.5" stroke="#20b2aa" stroke-opacity="0.5" stroke-width="0.7"/>
<circle cx="193.8" cy="373.4" r="1.65" fill="#20b2aa" fill-opacity="0.5" stroke="#20b2aa" stroke-opacity="0.5" stroke-width="0.7"/>
<circle cx="109.4" cy="373.4" r="1.65" fill="#20b2aa" fill-opacity="0.5" stroke="#20b2aa" stroke-opacity="0.5" stroke-width="0.7"/>
<circle cx="115.6" cy="372.7" r="1.65" fill="#20b2aa" fill-opacity="0.5" stroke="#20b2aa" stroke-opacity="0.5" stroke-width="0.7"/>
<circle cx="125.0" cy="373.4" r="1.65" fill="#20b2aa" fill-opacity="0.5" stroke="#20b2aa" stroke-opacity="0.5" stroke-width="0.7"/>
<circle cx="134.4" cy="373.4" r="1.65" fill="#20b2aa" fill-opacity="0.5" stroke="#20b2aa" stroke-opacity="0.5" stroke-width="0.7"/>
<circle cx="146.9" cy="373.4" r="1.65" fill="#20b2aa" fill-opacity="0.5" stroke="#20b2aa" stroke-opacity="0.5" stroke-width="0.7"/>
<circle cx="162.5" cy="373.4" r="1.65" fill="#20b2aa" fill-opacity="0.5" stroke="#20b2aa" stroke-opacity="0.5" stroke-width="0.7"/>
<circle cx="272.3" cy="322.4" r="1.65" fill="#20b2aa" fill-opacity="0.5" stroke="#20b2aa" stroke-opacity="0.5" stroke-width="0.7"/>
<circle cx="249.0" cy="327.1" r="1.65" fill="#20b2aa" fill-opacity="0.5" stroke="#20b2aa" stroke-opacity="0.5" stroke-width="0.7"/>
<circle cx="207.0" cy="332.7" r="1.65" fill="#20b2aa" fill-opacity="0.5" stroke="#20b2aa" stroke-opacity="0.5" stroke-width="0.7"/>
<circle cx="210.5" cy="333.3" r="1.65" fill="#20b2aa" fill-opacity="0.5" stroke="#20b2aa" stroke-opacity="0.5" stroke-width="0.7"/>
<circle cx="214.9" cy="332.7" r="1.65" fill="#20b2aa" fill-opacity="0.5" stroke="#20b2aa" stroke-opacity="0.5" stroke-width="0.7"/>
<circle cx="210.0" cy="336.2" r="1.65" fill="#20b2aa" fill-opacity="0.5" stroke="#20b2aa" stroke-opacity="0.5" stroke-width="0.7"/>
<circle cx="204.4" cy="340.6" r="1.65" fill="#20b2aa" fill-opacity="0.5" stroke="#20b2aa" stroke-opacity="0.5" stroke-width="0.7"/>
<circle cx="210.5" cy="343.4" r="1.65" fill="#20b2aa" fill-opacity="0.5" stroke="#20b2aa" stroke-opacity="0.5" stroke-width="0.7"/>
<circle cx="222.8" cy="344.1" r="1.65" fill="#20b2aa" fill-opacity="0.5" stroke="#20b2aa" stroke-opacity="0.5" stroke-width="0.7"/>
<circle cx="240.6" cy="340.6" r="1.65" fill="#20b2aa" fill-opacity="0.5" stroke="#20b2aa" stroke-opacity="0.5" stroke-width="0.7"/>
<circle cx="242.0" cy="342.4" r="1.65" fill="#20b2aa" fill-opacity="0.5" stroke="#20b2aa" stroke-opacity="0.5" stroke-width="0.7"/>
<circle cx="239.4" cy="344.1" r="1.65" fill="#20b2aa" fill-opacity="0.5" stroke="#20b2aa" stroke-opacity="0.5" stroke-width="0.7"/>
<circle cx="275.6" cy="339.9" r="1.65" fill="#20b2aa" fill-opacity="0.5" stroke="#20b2aa" stroke-opacity="0.5" stroke-width="0.7"/>
<circle cx="282.8" cy="343.4" r="1.65" fill="#20b2aa" fill-opacity="0.5" stroke="#20b2aa" stroke-opacity="0.5" stroke-width="0.7"/>
<circle cx="203.9" cy="346.9" r="1.65" fill="#20b2aa" fill-opacity="0.5" stroke="#20b2aa" stroke-opacity="0.5" stroke-width="0.7"/>
<circle cx="201.4" cy="351.3" r="1.65" fill="#20b2aa" fill-opacity="0.5" stroke="#20b2aa" stroke-opacity="0.5" stroke-width="0.7"/>
<circle cx="212.6" cy="350.8" r="1.65" fill="#20b2aa" fill-opacity="0.5" stroke="#20b2aa" stroke-opacity="0.5" stroke-width="0.7"/>
<circle cx="217.0" cy="354.6" r="1.65" fill="#20b2aa" fill-opacity="0.5" stroke="#20b2aa" stroke-opacity="0.5" stroke-width="0.7"/>
<circle cx="222.8" cy="354.6" r="1.65" fill="#20b2aa" fill-opacity="0.5" stroke="#20b2aa" stroke-opacity="0.5" stroke-width="0.7"/>
<circle cx="249.0" cy="357.2" r="1.65" fill="#20b2aa" fill-opacity="0.5" stroke="#20b2aa" stroke-opacity="0.5" stroke-width="0.7"/>
<circle cx="206.7" cy="359.5" r="1.65" fill="#20b2aa" fill-opacity="0.5" stroke="#20b2aa" stroke-opacity="0.5" stroke-width="0.7"/>
<circle cx="202.6" cy="362.1" r="1.65" fill="#20b2aa" fill-opacity="0.5" stroke="#20b2aa" stroke-opacity="0.5" stroke-width="0.7"/>
<circle cx="208.4" cy="365.1" r="1.65" fill="#20b2aa" fill-opacity="0.5" stroke="#20b2aa" stroke-opacity="0.5" stroke-width="0.7"/>
<circle cx="252.5" cy="364.4" r="1.65" fill="#20b2aa" fill-opacity="0.5" stroke="#20b2aa" stroke-opacity="0.5" stroke-width="0.7"/>
<circle cx="201.4" cy="369.1" r="1.65" fill="#20b2aa" fill-opacity="0.5" stroke="#20b2aa" stroke-opacity="0.5" stroke-width="0.7"/>
<circle cx="212.3" cy="368.3" r="1.65" fill="#20b2aa" fill-opacity="0.5" stroke="#20b2aa" stroke-opacity="0.5" stroke-width="0.7"/>
<circle cx="228.0" cy="368.6" r="1.65" fill="#20b2aa" fill-opacity="0.5" stroke="#20b2aa" stroke-opacity="0.5" stroke-width="0.7"/>
<circle cx="218.0" cy="371.4" r="1.65" fill="#20b2aa" fill-opacity="0.5" stroke="#20b2aa" stroke-opacity="0.5" stroke-width="0.7"/>
<circle cx="224.2" cy="373.5" r="1.65" fill="#20b2aa" fill-opacity="0.5" stroke="#20b2aa" stroke-opacity="0.5" stroke-width="0.7"/>
<circle cx="230.6" cy="373.2" r="1.65" fill="#20b2aa" fill-opacity="0.5" stroke="#20b2aa" stroke-opacity="0.5" stroke-width="0.7"/>
<circle cx="238.9" cy="372.6" r="1.65" fill="#20b2aa" fill-opacity="0.5" stroke="#20b2aa" stroke-opacity="0.5" stroke-width="0.7"/>
<circle cx="246.4" cy="371.8" r="1.65" fill="#20b2aa" fill-opacity="0.5" stroke="#20b2aa" stroke-opacity="0.5" stroke-width="0.7"/>
<circle cx="262.5" cy="371.4" r="1.65" fill="#20b2aa" fill-opacity="0.5" stroke="#20b2aa" stroke-opacity="0.5" stroke-width="0.7"/>
<circle cx="206.1" cy="377.9" r="1.65" fill="#20b2aa" fill-opacity="0.5" stroke="#20b2aa" stroke-opacity="0.5" stroke-width="0.7"/>
<circle cx="109.2" cy="370.8" r="1.65" fill="#20b2aa" fill-opacity="0.5" stroke="#20b2aa" stroke-opacity="0.5" stroke-width="0.7"/>
<circle cx="118.6" cy="372.3" r="1.65" fill="#20b2aa" fill-opacity="0.5" stroke="#20b2aa" stroke-opacity="0.5" stroke-width="0.7"/>
<circle cx="123.2" cy="370.8" r="1.65" fill="#20b2aa" fill-opacity="0.5" stroke="#20b2aa" stroke-opacity="0.5" stroke-width="0.7"/>
<circle cx="138.9" cy="373.1" r="1.65" fill="#20b2aa" fill-opacity="0.5" stroke="#20b2aa" stroke-opacity="0.5" stroke-width="0.7"/>
<circle cx="141.2" cy="370.8" r="1.65" fill="#20b2aa" fill-opacity="0.5" stroke="#20b2aa" stroke-opacity="0.5" stroke-width="0.7"/>
<circle cx="109.2" cy="376.2" r="1.65" fill="#20b2aa" fill-opacity="0.5" stroke="#20b2aa" stroke-opacity="0.5" stroke-width="0.7"/>
<circle cx="120.1" cy="377.0" r="1.65" fill="#20b2aa" fill-opacity="0.5" stroke="#20b2aa" stroke-opacity="0.5" stroke-width="0.7"/>
<circle cx="129.5" cy="376.2" r="1.65" fill="#20b2aa" fill-opacity="0.5" stroke="#20b2aa" stroke-opacity="0.5" stroke-width="0.7"/>
<circle cx="135.8" cy="377.0" r="1.65" fill="#20b2aa" fill-opacity="0.5" stroke="#20b2aa" stroke-opacity="0.5" stroke-width="0.7"/>
<circle cx="139.7" cy="376.2" r="1.65" fill="#20b2aa" fill-opacity="0.5" stroke="#20b2aa" stroke-opacity="0.5" stroke-width="0.7"/>
<circle cx="103.7" cy="379.7" r="1.65" fill="#20b2aa" fill-opacity="0.5" stroke="#20b2aa" stroke-opacity="0.5" stroke-width="0.7"/>
<circle cx="100.6" cy="381.7" r="1.65" fill="#20b2aa" fill-opacity="0.5" stroke="#20b2aa" stroke-opacity="0.5" stroke-width="0.7"/>
<circle cx="100.6" cy="384.1" r="1.65" fill="#20b2aa" fill-opacity="0.5" stroke="#20b2aa" stroke-opacity="0.5" stroke-width="0.7"/>
<circle cx="112.3" cy="379.4" r="1.65" fill="#20b2aa" fill-opacity="0.5" stroke="#20b2aa" stroke-opacity="0.5" stroke-width="0.7"/>
<circle cx="113.9" cy="382.5" r="1.65" fill="#20b2aa" fill-opacity="0.5" stroke="#20b2aa" stroke-opacity="0.5" stroke-width="0.7"/>
<circle cx="118.6" cy="381.7" r="1.65" fill="#20b2aa" fill-opacity="0.5" stroke="#20b2aa" stroke-opacity="0.5" stroke-width="0.7"/>
<circle cx="123.2" cy="379.4" r="1.65" fill="#20b2aa" fill-opacity="0.5" stroke="#20b2aa" stroke-opacity="0.5" stroke-width="0.7"/>
<circle cx="127.9" cy="382.5" r="1.65" fill="#20b2aa" fill-opacity="0.5" stroke="#20b2aa" stroke-opacity="0.5" stroke-width="0.7"/>
<circle cx="134.2" cy="380.9" r="1.65" fill="#20b2aa" fill-opacity="0.5" stroke="#20b2aa" stroke-opacity="0.5" stroke-width="0.7"/>
<circle cx="138.1" cy="382.5" r="1.65" fill="#20b2aa" fill-opacity="0.5" stroke="#20b2aa" stroke-opacity="0.5" stroke-width="0.7"/>
<circle cx="141.2" cy="380.2" r="1.65" fill="#20b2aa" fill-opacity="0.5" stroke="#20b2aa" stroke-opacity="0.5" stroke-width="0.7"/>
<circle cx="96.7" cy="386.9" r="1.65" fill="#20b2aa" fill-opacity="0.5" stroke="#20b2aa" stroke-opacity="0.5" stroke-width="0.7"/>
<circle cx="98.2" cy="389.5" r="1.65" fill="#20b2aa" fill-opacity="0.5" stroke="#20b2aa" stroke-opacity="0.5" stroke-width="0.7"/>
<circle cx="109.2" cy="387.2" r="1.65" fill="#20b2aa" fill-opacity="0.5" stroke="#20b2aa" stroke-opacity="0.5" stroke-width="0.7"/>
<circle cx="114.7" cy="385.6" r="1.65" fill="#20b2aa" fill-opacity="0.5" stroke="#20b2aa" stroke-opacity="0.5" stroke-width="0.7"/>
<circle cx="120.1" cy="387.2" r="1.65" fill="#20b2aa" fill-opacity="0.5" stroke="#20b2aa" stroke-opacity="0.5" stroke-width="0.7"/>
<circle cx="124.8" cy="386.4" r="1.65" fill="#20b2aa" fill-opacity="0.5" stroke="#20b2aa" stroke-opacity="0.5" stroke-width="0.7"/>
<circle cx="128.7" cy="385.6" r="1.65" fill="#20b2aa" fill-opacity="0.5" stroke="#20b2aa" stroke-opacity="0.5" stroke-width="0.7"/>
<circle cx="132.6" cy="388.8" r="1.65" fill="#20b2aa" fill-opacity="0.5" stroke="#20b2aa" stroke-opacity="0.5" stroke-width="0.7"/>
<circle cx="137.3" cy="387.2" r="1.65" fill="#20b2aa" fill-opacity="0.5" stroke="#20b2aa" stroke-opacity="0.5" stroke-width="0.7"/>
<circle cx="102.2" cy="391.9" r="1.65" fill="#20b2aa" fill-opacity="0.5" stroke="#20b2aa" stroke-opacity="0.5" stroke-width="0.7"/>
<circle cx="98.2" cy="394.2" r="1.65" fill="#20b2aa" fill-opacity="0.5" stroke="#20b2aa" stroke-opacity="0.5" stroke-width="0.7"/>
<circle cx="101.4" cy="393.4" r="1.65" fill="#20b2aa" fill-opacity="0.5" stroke="#20b2aa" stroke-opacity="0.5" stroke-width="0.7"/>
<circle cx="109.2" cy="395.0" r="1.65" fill="#20b2aa" fill-opacity="0.5" stroke="#20b2aa" stroke-opacity="0.5" stroke-width="0.7"/>
<circle cx="112.3" cy="396.6" r="1.65" fill="#20b2aa" fill-opacity="0.5" stroke="#20b2aa" stroke-opacity="0.5" stroke-width="0.7"/>
<circle cx="115.4" cy="393.4" r="1.65" fill="#20b2aa" fill-opacity="0.5" stroke="#20b2aa" stroke-opacity="0.5" stroke-width="0.7"/>
<circle cx="119.3" cy="390.3" r="1.65" fill="#20b2aa" fill-opacity="0.5" stroke="#20b2aa" stroke-opacity="0.5" stroke-width="0.7"/>
<circle cx="123.2" cy="390.3" r="1.65" fill="#20b2aa" fill-opacity="0.5" stroke="#20b2aa" stroke-opacity="0.5" stroke-width="0.7"/>
<circle cx="127.9" cy="393.4" r="1.65" fill="#20b2aa" fill-opacity="0.5" stroke="#20b2aa" stroke-opacity="0.5" stroke-width="0.7"/>
<circle cx="132.6" cy="393.4" r="1.65" fill="#20b2aa" fill-opacity="0.5" stroke="#20b2aa" stroke-opacity="0.5" stroke-width="0.7"/>
<circle cx="137.3" cy="392.7" r="1.65" fill="#20b2aa" fill-opacity="0.5" stroke="#20b2aa" stroke-opacity="0.5" stroke-width="0.7"/>
<circle cx="141.2" cy="389.5" r="1.65" fill="#20b2aa" fill-opacity="0.5" stroke="#20b2aa" stroke-opacity="0.5" stroke-width="0.7"/>
<circle cx="85.8" cy="397.8" r="1.65" fill="#20b2aa" fill-opacity="0.5" stroke="#20b2aa" stroke-opacity="0.5" stroke-width="0.7"/>
<circle cx="90.8" cy="400.2" r="1.65" fill="#20b2aa" fill-opacity="0.5" stroke="#20b2aa" stroke-opacity="0.5" stroke-width="0.7"/>
<circle cx="101.7" cy="398.1" r="1.65" fill="#20b2aa" fill-opacity="0.5" stroke="#20b2aa" stroke-opacity="0.5" stroke-width="0.7"/>
<circle cx="107.6" cy="395.8" r="1.65" fill="#20b2aa" fill-opacity="0.5" stroke="#20b2aa" stroke-opacity="0.5" stroke-width="0.7"/>
<circle cx="110.8" cy="398.9" r="1.65" fill="#20b2aa" fill-opacity="0.5" stroke="#20b2aa" stroke-opacity="0.5" stroke-width="0.7"/>
<circle cx="108.4" cy="402.0" r="1.65" fill="#20b2aa" fill-opacity="0.5" stroke="#20b2aa" stroke-opacity="0.5" stroke-width="0.7"/>
<circle cx="115.4" cy="402.8" r="1.65" fill="#20b2aa" fill-opacity="0.5" stroke="#20b2aa" stroke-opacity="0.5" stroke-width="0.7"/>
<circle cx="118.6" cy="402.0" r="1.65" fill="#20b2aa" fill-opacity="0.5" stroke="#20b2aa" stroke-opacity="0.5" stroke-width="0.7"/>
<circle cx="123.2" cy="397.3" r="1.65" fill="#20b2aa" fill-opacity="0.5" stroke="#20b2aa" stroke-opacity="0.5" stroke-width="0.7"/>
<circle cx="127.2" cy="400.5" r="1.65" fill="#20b2aa" fill-opacity="0.5" stroke="#20b2aa" stroke-opacity="0.5" stroke-width="0.7"/>
<circle cx="131.1" cy="398.1" r="1.65" fill="#20b2aa" fill-opacity="0.5" stroke="#20b2aa" stroke-opacity="0.5" stroke-width="0.7"/>
<circle cx="135.8" cy="399.7" r="1.65" fill="#20b2aa" fill-opacity="0.5" stroke="#20b2aa" stroke-opacity="0.5" stroke-width="0.7"/>
<circle cx="140.4" cy="398.1" r="1.65" fill="#20b2aa" fill-opacity="0.5" stroke="#20b2aa" stroke-opacity="0.5" stroke-width="0.7"/>
<circle cx="65.1" cy="405.2" r="1.65" fill="#20b2aa" fill-opacity="0.5" stroke="#20b2aa" stroke-opacity="0.5" stroke-width="0.7"/>
<circle cx="96.7" cy="405.9" r="1.65" fill="#20b2aa" fill-opacity="0.5" stroke="#20b2aa" stroke-opacity="0.5" stroke-width="0.7"/>
<circle cx="99.0" cy="402.5" r="1.65" fill="#20b2aa" fill-opacity="0.5" stroke="#20b2aa" stroke-opacity="0.5" stroke-width="0.7"/>
<circle cx="101.4" cy="406.7" r="1.65" fill="#20b2aa" fill-opacity="0.5" stroke="#20b2aa" stroke-opacity="0.5" stroke-width="0.7"/>
<circle cx="112.3" cy="404.4" r="1.65" fill="#20b2aa" fill-opacity="0.5" stroke="#20b2aa" stroke-opacity="0.5" stroke-width="0.7"/>
<circle cx="124.0" cy="404.7" r="1.65" fill="#20b2aa" fill-opacity="0.5" stroke="#20b2aa" stroke-opacity="0.5" stroke-width="0.7"/>
<circle cx="129.5" cy="405.2" r="1.65" fill="#20b2aa" fill-opacity="0.5" stroke="#20b2aa" stroke-opacity="0.5" stroke-width="0.7"/>
<circle cx="132.6" cy="406.7" r="1.65" fill="#20b2aa" fill-opacity="0.5" stroke="#20b2aa" stroke-opacity="0.5" stroke-width="0.7"/>
<circle cx="137.3" cy="403.6" r="1.65" fill="#20b2aa" fill-opacity="0.5" stroke="#20b2aa" stroke-opacity="0.5" stroke-width="0.7"/>
<circle cx="141.2" cy="402.8" r="1.65" fill="#20b2aa" fill-opacity="0.5" stroke="#20b2aa" stroke-opacity="0.5" stroke-width="0.7"/>
<circle cx="77.2" cy="411.9" r="1.65" fill="#20b2aa" fill-opacity="0.5" stroke="#20b2aa" stroke-opacity="0.5" stroke-width="0.7"/>
<circle cx="98.2" cy="414.1" r="1.65" fill="#20b2aa" fill-opacity="0.5" stroke="#20b2aa" stroke-opacity="0.5" stroke-width="0.7"/>
<circle cx="107.6" cy="413.0" r="1.65" fill="#20b2aa" fill-opacity="0.5" stroke="#20b2aa" stroke-opacity="0.5" stroke-width="0.7"/>
<circle cx="109.2" cy="409.1" r="1.65" fill="#20b2aa" fill-opacity="0.5" stroke="#20b2aa" stroke-opacity="0.5" stroke-width="0.7"/>
<circle cx="115.4" cy="412.5" r="1.65" fill="#20b2aa" fill-opacity="0.5" stroke="#20b2aa" stroke-opacity="0.5" stroke-width="0.7"/>
<circle cx="117.8" cy="414.5" r="1.65" fill="#20b2aa" fill-opacity="0.5" stroke="#20b2aa" stroke-opacity="0.5" stroke-width="0.7"/>
<circle cx="124.0" cy="409.8" r="1.65" fill="#20b2aa" fill-opacity="0.5" stroke="#20b2aa" stroke-opacity="0.5" stroke-width="0.7"/>
<circle cx="127.9" cy="409.8" r="1.65" fill="#20b2aa" fill-opacity="0.5" stroke="#20b2aa" stroke-opacity="0.5" stroke-width="0.7"/>
<circle cx="134.2" cy="408.3" r="1.65" fill="#20b2aa" fill-opacity="0.5" stroke="#20b2aa" stroke-opacity="0.5" stroke-width="0.7"/>
<circle cx="140.4" cy="413.8" r="1.65" fill="#20b2aa" fill-opacity="0.5" stroke="#20b2aa" stroke-opacity="0.5" stroke-width="0.7"/>
<circle cx="102.2" cy="417.2" r="1.65" fill="#20b2aa" fill-opacity="0.5" stroke="#20b2aa" stroke-opacity="0.5" stroke-width="0.7"/>
<circle cx="123.2" cy="417.7" r="1.65" fill="#20b2aa" fill-opacity="0.5" stroke="#20b2aa" stroke-opacity="0.5" stroke-width="0.7"/>
<circle cx="54.2" cy="422.8" r="1.65" fill="#20b2aa" fill-opacity="0.5" stroke="#20b2aa" stroke-opacity="0.5" stroke-width="0.7"/>
<circle cx="59.7" cy="435.9" r="1.65" fill="#20b2aa" fill-opacity="0.5" stroke="#20b2aa" stroke-opacity="0.5" stroke-width="0.7"/>
<circle cx="134.7" cy="370.8" r="1.65" fill="#20b2aa" fill-opacity="0.5" stroke="#20b2aa" stroke-opacity="0.5" stroke-width="0.7"/>
<circle cx="167.5" cy="372.3" r="1.65" fill="#20b2aa" fill-opacity="0.5" stroke="#20b2aa" stroke-opacity="0.5" stroke-width="0.7"/>
<circle cx="167.5" cy="370.0" r="1.65" fill="#20b2aa" fill-opacity="0.5" stroke="#20b2aa" stroke-opacity="0.5" stroke-width="0.7"/>
<circle cx="133.1" cy="377.0" r="1.65" fill="#20b2aa" fill-opacity="0.5" stroke="#20b2aa" stroke-opacity="0.5" stroke-width="0.7"/>
<circle cx="137.8" cy="379.4" r="1.65" fill="#20b2aa" fill-opacity="0.5" stroke="#20b2aa" stroke-opacity="0.5" stroke-width="0.7"/>
<circle cx="144.8" cy="380.2" r="1.65" fill="#20b2aa" fill-opacity="0.5" stroke="#20b2aa" stroke-opacity="0.5" stroke-width="0.7"/>
<circle cx="151.1" cy="378.6" r="1.65" fill="#20b2aa" fill-opacity="0.5" stroke="#20b2aa" stroke-opacity="0.5" stroke-width="0.7"/>
<circle cx="158.1" cy="377.8" r="1.65" fill="#20b2aa" fill-opacity="0.5" stroke="#20b2aa" stroke-opacity="0.5" stroke-width="0.7"/>
<circle cx="163.6" cy="376.2" r="1.65" fill="#20b2aa" fill-opacity="0.5" stroke="#20b2aa" stroke-opacity="0.5" stroke-width="0.7"/>
<circle cx="170.6" cy="380.2" r="1.65" fill="#20b2aa" fill-opacity="0.5" stroke="#20b2aa" stroke-opacity="0.5" stroke-width="0.7"/>
<circle cx="161.2" cy="380.9" r="1.65" fill="#20b2aa" fill-opacity="0.5" stroke="#20b2aa" stroke-opacity="0.5" stroke-width="0.7"/>
<circle cx="178.4" cy="378.6" r="1.65" fill="#20b2aa" fill-opacity="0.5" stroke="#20b2aa" stroke-opacity="0.5" stroke-width="0.7"/>
<circle cx="180.8" cy="380.9" r="1.65" fill="#20b2aa" fill-opacity="0.5" stroke="#20b2aa" stroke-opacity="0.5" stroke-width="0.7"/>
<circle cx="186.2" cy="376.2" r="1.65" fill="#20b2aa" fill-opacity="0.5" stroke="#20b2aa" stroke-opacity="0.5" stroke-width="0.7"/>
<circle cx="188.1" cy="379.7" r="1.65" fill="#20b2aa" fill-opacity="0.5" stroke="#20b2aa" stroke-opacity="0.5" stroke-width="0.7"/>
<circle cx="195.3" cy="377.0" r="1.65" fill="#20b2aa" fill-opacity="0.5" stroke="#20b2aa" stroke-opacity="0.5" stroke-width="0.7"/>
<circle cx="195.6" cy="380.9" r="1.65" fill="#20b2aa" fill-opacity="0.5" stroke="#20b2aa" stroke-opacity="0.5" stroke-width="0.7"/>
<circle cx="133.1" cy="384.1" r="1.65" fill="#20b2aa" fill-opacity="0.5" stroke="#20b2aa" stroke-opacity="0.5" stroke-width="0.7"/>
<circle cx="139.4" cy="385.6" r="1.65" fill="#20b2aa" fill-opacity="0.5" stroke="#20b2aa" stroke-opacity="0.5" stroke-width="0.7"/>
<circle cx="147.2" cy="385.6" r="1.65" fill="#20b2aa" fill-opacity="0.5" stroke="#20b2aa" stroke-opacity="0.5" stroke-width="0.7"/>
<circle cx="149.5" cy="384.8" r="1.65" fill="#20b2aa" fill-opacity="0.5" stroke="#20b2aa" stroke-opacity="0.5" stroke-width="0.7"/>
<circle cx="158.9" cy="385.6" r="1.65" fill="#20b2aa" fill-opacity="0.5" stroke="#20b2aa" stroke-opacity="0.5" stroke-width="0.7"/>
<circle cx="164.4" cy="387.2" r="1.65" fill="#20b2aa" fill-opacity="0.5" stroke="#20b2aa" stroke-opacity="0.5" stroke-width="0.7"/>
<circle cx="168.3" cy="386.4" r="1.65" fill="#20b2aa" fill-opacity="0.5" stroke="#20b2aa" stroke-opacity="0.5" stroke-width="0.7"/>
<circle cx="177.7" cy="384.8" r="1.65" fill="#20b2aa" fill-opacity="0.5" stroke="#20b2aa" stroke-opacity="0.5" stroke-width="0.7"/>
<circle cx="185.5" cy="384.8" r="1.65" fill="#20b2aa" fill-opacity="0.5" stroke="#20b2aa" stroke-opacity="0.5" stroke-width="0.7"/>
<circle cx="187.0" cy="387.2" r="1.65" fill="#20b2aa" fill-opacity="0.5" stroke="#20b2aa" stroke-opacity="0.5" stroke-width="0.7"/>
<circle cx="173.0" cy="388.8" r="1.65" fill="#20b2aa" fill-opacity="0.5" stroke="#20b2aa" stroke-opacity="0.5" stroke-width="0.7"/>
<circle cx="172.2" cy="390.6" r="1.65" fill="#20b2aa" fill-opacity="0.5" stroke="#20b2aa" stroke-opacity="0.5" stroke-width="0.7"/>
<circle cx="145.6" cy="390.3" r="1.65" fill="#20b2aa" fill-opacity="0.5" stroke="#20b2aa" stroke-opacity="0.5" stroke-width="0.7"/>
<circle cx="151.1" cy="395.0" r="1.65" fill="#20b2aa" fill-opacity="0.5" stroke="#20b2aa" stroke-opacity="0.5" stroke-width="0.7"/>
<circle cx="155.8" cy="392.7" r="1.65" fill="#20b2aa" fill-opacity="0.5" stroke="#20b2aa" stroke-opacity="0.5" stroke-width="0.7"/>
<circle cx="160.5" cy="391.9" r="1.65" fill="#20b2aa" fill-opacity="0.5" stroke="#20b2aa" stroke-opacity="0.5" stroke-width="0.7"/>
<circle cx="158.9" cy="395.8" r="1.65" fill="#20b2aa" fill-opacity="0.5" stroke="#20b2aa" stroke-opacity="0.5" stroke-width="0.7"/>
<circle cx="165.9" cy="394.2" r="1.65" fill="#20b2aa" fill-opacity="0.5" stroke="#20b2aa" stroke-opacity="0.5" stroke-width="0.7"/>
<circle cx="181.6" cy="388.8" r="1.65" fill="#20b2aa" fill-opacity="0.5" stroke="#20b2aa" stroke-opacity="0.5" stroke-width="0.7"/>
<circle cx="188.6" cy="388.8" r="1.65" fill="#20b2aa" fill-opacity="0.5" stroke="#20b2aa" stroke-opacity="0.5" stroke-width="0.7"/>
<circle cx="178.4" cy="394.2" r="1.65" fill="#20b2aa" fill-opacity="0.5" stroke="#20b2aa" stroke-opacity="0.5" stroke-width="0.7"/>
<circle cx="180.0" cy="393.4" r="1.65" fill="#20b2aa" fill-opacity="0.5" stroke="#20b2aa" stroke-opacity="0.5" stroke-width="0.7"/>
<circle cx="187.8" cy="391.9" r="1.65" fill="#20b2aa" fill-opacity="0.5" stroke="#20b2aa" stroke-opacity="0.5" stroke-width="0.7"/>
<circle cx="189.4" cy="392.7" r="1.65" fill="#20b2aa" fill-opacity="0.5" stroke="#20b2aa" stroke-opacity="0.5" stroke-width="0.7"/>
<circle cx="192.5" cy="394.2" r="1.65" fill="#20b2aa" fill-opacity="0.5" stroke="#20b2aa" stroke-opacity="0.5" stroke-width="0.7"/>
<circle cx="192.5" cy="396.9" r="1.65" fill="#20b2aa" fill-opacity="0.5" stroke="#20b2aa" stroke-opacity="0.5" stroke-width="0.7"/>
<circle cx="197.5" cy="396.2" r="1.65" fill="#20b2aa" fill-opacity="0.5" stroke="#20b2aa" stroke-opacity="0.5" stroke-width="0.7"/>
<circle cx="133.1" cy="397.3" r="1.65" fill="#20b2aa" fill-opacity="0.5" stroke="#20b2aa" stroke-opacity="0.5" stroke-width="0.7"/>
<circle cx="144.8" cy="399.7" r="1.65" fill="#20b2aa" fill-opacity="0.5" stroke="#20b2aa" stroke-opacity="0.5" stroke-width="0.7"/>
<circle cx="148.0" cy="400.5" r="1.65" fill="#20b2aa" fill-opacity="0.5" stroke="#20b2aa" stroke-opacity="0.5" stroke-width="0.7"/>
<circle cx="154.2" cy="399.7" r="1.65" fill="#20b2aa" fill-opacity="0.5" stroke="#20b2aa" stroke-opacity="0.5" stroke-width="0.7"/>
<circle cx="160.5" cy="399.7" r="1.65" fill="#20b2aa" fill-opacity="0.5" stroke="#20b2aa" stroke-opacity="0.5" stroke-width="0.7"/>
<circle cx="163.6" cy="399.7" r="1.65" fill="#20b2aa" fill-opacity="0.5" stroke="#20b2aa" stroke-opacity="0.5" stroke-width="0.7"/>
<circle cx="161.2" cy="402.0" r="1.65" fill="#20b2aa" fill-opacity="0.5" stroke="#20b2aa" stroke-opacity="0.5" stroke-width="0.7"/>
<circle cx="175.3" cy="398.9" r="1.65" fill="#20b2aa" fill-opacity="0.5" stroke="#20b2aa" stroke-opacity="0.5" stroke-width="0.7"/>
<circle cx="202.7" cy="399.4" r="1.65" fill="#20b2aa" fill-opacity="0.5" stroke="#20b2aa" stroke-opacity="0.5" stroke-width="0.7"/>
<circle cx="206.6" cy="402.5" r="1.65" fill="#20b2aa" fill-opacity="0.5" stroke="#20b2aa" stroke-opacity="0.5" stroke-width="0.7"/>
<circle cx="165.9" cy="404.7" r="1.65" fill="#20b2aa" fill-opacity="0.5" stroke="#20b2aa" stroke-opacity="0.5" stroke-width="0.7"/>
<circle cx="184.4" cy="406.7" r="1.65" fill="#20b2aa" fill-opacity="0.5" stroke="#20b2aa" stroke-opacity="0.5" stroke-width="0.7"/>
<circle cx="150.3" cy="411.9" r="1.65" fill="#20b2aa" fill-opacity="0.5" stroke="#20b2aa" stroke-opacity="0.5" stroke-width="0.7"/>
<circle cx="159.7" cy="410.3" r="1.65" fill="#20b2aa" fill-opacity="0.5" stroke="#20b2aa" stroke-opacity="0.5" stroke-width="0.7"/>
<circle cx="160.5" cy="412.2" r="1.65" fill="#20b2aa" fill-opacity="0.5" stroke="#20b2aa" stroke-opacity="0.5" stroke-width="0.7"/>
<circle cx="163.6" cy="411.4" r="1.65" fill="#20b2aa" fill-opacity="0.5" stroke="#20b2aa" stroke-opacity="0.5" stroke-width="0.7"/>
<circle cx="173.8" cy="414.1" r="1.65" fill="#20b2aa" fill-opacity="0.5" stroke="#20b2aa" stroke-opacity="0.5" stroke-width="0.7"/>
<circle cx="177.7" cy="410.9" r="1.65" fill="#20b2aa" fill-opacity="0.5" stroke="#20b2aa" stroke-opacity="0.5" stroke-width="0.7"/>
<circle cx="199.1" cy="412.5" r="1.65" fill="#20b2aa" fill-opacity="0.5" stroke="#20b2aa" stroke-opacity="0.5" stroke-width="0.7"/>
<circle cx="190.2" cy="417.7" r="1.65" fill="#20b2aa" fill-opacity="0.5" stroke="#20b2aa" stroke-opacity="0.5" stroke-width="0.7"/>
<circle cx="243.2" cy="388.0" r="1.65" fill="#20b2aa" fill-opacity="0.5" stroke="#20b2aa" stroke-opacity="0.5" stroke-width="0.7"/>
<circle cx="244.0" cy="390.0" r="1.65" fill="#20b2aa" fill-opacity="0.5" stroke="#20b2aa" stroke-opacity="0.5" stroke-width="0.7"/>
<circle cx="241.7" cy="391.1" r="1.65" fill="#20b2aa" fill-opacity="0.5" stroke="#20b2aa" stroke-opacity="0.5" stroke-width="0.7"/>
<circle cx="255.4" cy="396.6" r="1.65" fill="#20b2aa" fill-opacity="0.5" stroke="#20b2aa" stroke-opacity="0.5" stroke-width="0.7"/>
<circle cx="257.3" cy="398.9" r="1.65" fill="#20b2aa" fill-opacity="0.5" stroke="#20b2aa" stroke-opacity="0.5" stroke-width="0.7"/>
<circle cx="270.1" cy="398.9" r="1.65" fill="#20b2aa" fill-opacity="0.5" stroke="#20b2aa" stroke-opacity="0.5" stroke-width="0.7"/>
<circle cx="292.5" cy="407.2" r="1.65" fill="#20b2aa" fill-opacity="0.5" stroke="#20b2aa" stroke-opacity="0.5" stroke-width="0.7"/>
<circle cx="300.3" cy="405.9" r="1.65" fill="#20b2aa" fill-opacity="0.5" stroke="#20b2aa" stroke-opacity="0.5" stroke-width="0.7"/>
<circle cx="239.3" cy="426.6" r="1.65" fill="#20b2aa" fill-opacity="0.5" stroke="#20b2aa" stroke-opacity="0.5" stroke-width="0.7"/>
<circle cx="150.0" cy="346.9" r="1.65" fill="#20b2aa" fill-opacity="0.5" stroke="#20b2aa" stroke-opacity="0.5" stroke-width="0.7"/>
<circle cx="157.5" cy="346.2" r="1.65" fill="#20b2aa" fill-opacity="0.5" stroke="#20b2aa" stroke-opacity="0.5" stroke-width="0.7"/>
<circle cx="162.5" cy="347.5" r="1.65" fill="#20b2aa" fill-opacity="0.5" stroke="#20b2aa" stroke-opacity="0.5" stroke-width="0.7"/>
<circle cx="172.5" cy="350.0" r="1.65" fill="#20b2aa" fill-opacity="0.5" stroke="#20b2aa" stroke-opacity="0.5" stroke-width="0.7"/>
<circle cx="128.1" cy="354.4" r="1.65" fill="#20b2aa" fill-opacity="0.5" stroke="#20b2aa" stroke-opacity="0.5" stroke-width="0.7"/>
<circle cx="136.2" cy="353.1" r="1.65" fill="#20b2aa" fill-opacity="0.5" stroke="#20b2aa" stroke-opacity="0.5" stroke-width="0.7"/>
<circle cx="151.9" cy="355.6" r="1.65" fill="#20b2aa" fill-opacity="0.5" stroke="#20b2aa" stroke-opacity="0.5" stroke-width="0.7"/>
<circle cx="136.2" cy="361.2" r="1.65" fill="#20b2aa" fill-opacity="0.5" stroke="#20b2aa" stroke-opacity="0.5" stroke-width="0.7"/>
<circle cx="143.8" cy="362.5" r="1.65" fill="#20b2aa" fill-opacity="0.5" stroke="#20b2aa" stroke-opacity="0.5" stroke-width="0.7"/>
<circle cx="150.0" cy="360.0" r="1.65" fill="#20b2aa" fill-opacity="0.5" stroke="#20b2aa" stroke-opacity="0.5" stroke-width="0.7"/>
<circle cx="153.8" cy="361.2" r="1.65" fill="#20b2aa" fill-opacity="0.5" stroke="#20b2aa" stroke-opacity="0.5" stroke-width="0.7"/>
<circle cx="123.8" cy="366.9" r="1.65" fill="#20b2aa" fill-opacity="0.5" stroke="#20b2aa" stroke-opacity="0.5" stroke-width="0.7"/>
<circle cx="127.5" cy="364.4" r="1.65" fill="#20b2aa" fill-opacity="0.5" stroke="#20b2aa" stroke-opacity="0.5" stroke-width="0.7"/>
<circle cx="133.8" cy="368.1" r="1.65" fill="#20b2aa" fill-opacity="0.5" stroke="#20b2aa" stroke-opacity="0.5" stroke-width="0.7"/>
<circle cx="145.0" cy="368.1" r="1.65" fill="#20b2aa" fill-opacity="0.5" stroke="#20b2aa" stroke-opacity="0.5" stroke-width="0.7"/>
<circle cx="160.0" cy="365.0" r="1.65" fill="#20b2aa" fill-opacity="0.5" stroke="#20b2aa" stroke-opacity="0.5" stroke-width="0.7"/>
<circle cx="173.8" cy="366.9" r="1.65" fill="#20b2aa" fill-opacity="0.5" stroke="#20b2aa" stroke-opacity="0.5" stroke-width="0.7"/>
<circle cx="113.8" cy="371.2" r="1.65" fill="#20b2aa" fill-opacity="0.5" stroke="#20b2aa" stroke-opacity="0.5" stroke-width="0.7"/>
<circle cx="117.5" cy="374.4" r="1.65" fill="#20b2aa" fill-opacity="0.5" stroke="#20b2aa" stroke-opacity="0.5" stroke-width="0.7"/>
<circle cx="126.2" cy="371.2" r="1.65" fill="#20b2aa" fill-opacity="0.5" stroke="#20b2aa" stroke-opacity="0.5" stroke-width="0.7"/>
<circle cx="165.0" cy="373.8" r="1.65" fill="#20b2aa" fill-opacity="0.5" stroke="#20b2aa" stroke-opacity="0.5" stroke-width="0.7"/>
<circle cx="172.5" cy="371.2" r="1.65" fill="#20b2aa" fill-opacity="0.5" stroke="#20b2aa" stroke-opacity="0.5" stroke-width="0.7"/>
<circle cx="116.9" cy="376.9" r="1.65" fill="#20b2aa" fill-opacity="0.5" stroke="#20b2aa" stroke-opacity="0.5" stroke-width="0.7"/>
<circle cx="120.0" cy="379.4" r="1.65" fill="#20b2aa" fill-opacity="0.5" stroke="#20b2aa" stroke-opacity="0.5" stroke-width="0.7"/>
<circle cx="153.8" cy="378.8" r="1.65" fill="#20b2aa" fill-opacity="0.5" stroke="#20b2aa" stroke-opacity="0.5" stroke-width="0.7"/>
<circle cx="164.4" cy="380.0" r="1.65" fill="#20b2aa" fill-opacity="0.5" stroke="#20b2aa" stroke-opacity="0.5" stroke-width="0.7"/>
<circle cx="173.8" cy="378.8" r="1.65" fill="#20b2aa" fill-opacity="0.5" stroke="#20b2aa" stroke-opacity="0.5" stroke-width="0.7"/>
<circle cx="111.2" cy="382.5" r="1.65" fill="#20b2aa" fill-opacity="0.5" stroke="#20b2aa" stroke-opacity="0.5" stroke-width="0.7"/>
<circle cx="117.5" cy="386.2" r="1.65" fill="#20b2aa" fill-opacity="0.5" stroke="#20b2aa" stroke-opacity="0.5" stroke-width="0.7"/>
<circle cx="136.2" cy="383.8" r="1.65" fill="#20b2aa" fill-opacity="0.5" stroke="#20b2aa" stroke-opacity="0.5" stroke-width="0.7"/>
<circle cx="142.5" cy="386.2" r="1.65" fill="#20b2aa" fill-opacity="0.5" stroke="#20b2aa" stroke-opacity="0.5" stroke-width="0.7"/>
<circle cx="152.5" cy="383.8" r="1.65" fill="#20b2aa" fill-opacity="0.5" stroke="#20b2aa" stroke-opacity="0.5" stroke-width="0.7"/>
<circle cx="115.0" cy="391.2" r="1.65" fill="#20b2aa" fill-opacity="0.5" stroke="#20b2aa" stroke-opacity="0.5" stroke-width="0.7"/>
<circle cx="129.4" cy="389.4" r="1.65" fill="#20b2aa" fill-opacity="0.5" stroke="#20b2aa" stroke-opacity="0.5" stroke-width="0.7"/>
<circle cx="143.8" cy="388.8" r="1.65" fill="#20b2aa" fill-opacity="0.5" stroke="#20b2aa" stroke-opacity="0.5" stroke-width="0.7"/>
<circle cx="145.0" cy="392.5" r="1.65" fill="#20b2aa" fill-opacity="0.5" stroke="#20b2aa" stroke-opacity="0.5" stroke-width="0.7"/>
<circle cx="152.5" cy="390.0" r="1.65" fill="#20b2aa" fill-opacity="0.5" stroke="#20b2aa" stroke-opacity="0.5" stroke-width="0.7"/>
<circle cx="117.5" cy="395.6" r="1.65" fill="#20b2aa" fill-opacity="0.5" stroke="#20b2aa" stroke-opacity="0.5" stroke-width="0.7"/>
<circle cx="127.5" cy="396.2" r="1.65" fill="#20b2aa" fill-opacity="0.5" stroke="#20b2aa" stroke-opacity="0.5" stroke-width="0.7"/>
<circle cx="138.8" cy="396.2" r="1.65" fill="#20b2aa" fill-opacity="0.5" stroke="#20b2aa" stroke-opacity="0.5" stroke-width="0.7"/>
<circle cx="125.0" cy="401.9" r="1.65" fill="#20b2aa" fill-opacity="0.5" stroke="#20b2aa" stroke-opacity="0.5" stroke-width="0.7"/>
<circle cx="131.2" cy="402.5" r="1.65" fill="#20b2aa" fill-opacity="0.5" stroke="#20b2aa" stroke-opacity="0.5" stroke-width="0.7"/>
<circle cx="157.5" cy="402.5" r="1.65" fill="#20b2aa" fill-opacity="0.5" stroke="#20b2aa" stroke-opacity="0.5" stroke-width="0.7"/>
<circle cx="170.0" cy="402.5" r="1.65" fill="#20b2aa" fill-opacity="0.5" stroke="#20b2aa" stroke-opacity="0.5" stroke-width="0.7"/>
<circle cx="115.1" cy="375.0" r="1.65" fill="#20b2aa" fill-opacity="0.5" stroke="#20b2aa" stroke-opacity="0.5" stroke-width="0.7"/>
<circle cx="128.5" cy="380.9" r="1.65" fill="#20b2aa" fill-opacity="0.5" stroke="#20b2aa" stroke-opacity="0.5" stroke-width="0.7"/>
<circle cx="125.6" cy="370.9" r="1.65" fill="#20b2aa" fill-opacity="0.5" stroke="#20b2aa" stroke-opacity="0.5" stroke-width="0.7"/>
<circle cx="116.1" cy="374.2" r="1.65" fill="#20b2aa" fill-opacity="0.5" stroke="#20b2aa" stroke-opacity="0.5" stroke-width="0.7"/>
<circle cx="147.3" cy="375.8" r="1.65" fill="#20b2aa" fill-opacity="0.5" stroke="#20b2aa" stroke-opacity="0.5" stroke-width="0.7"/>
<circle cx="145.5" cy="373.9" r="1.65" fill="#20b2aa" fill-opacity="0.5" stroke="#20b2aa" stroke-opacity="0.5" stroke-width="0.7"/>
<circle cx="136.3" cy="375.0" r="1.65" fill="#20b2aa" fill-opacity="0.5" stroke="#20b2aa" stroke-opacity="0.5" stroke-width="0.7"/>
<circle cx="110.1" cy="389.3" r="1.65" fill="#20b2aa" fill-opacity="0.5" stroke="#20b2aa" stroke-opacity="0.5" stroke-width="0.7"/>
<circle cx="139.1" cy="378.5" r="1.65" fill="#20b2aa" fill-opacity="0.5" stroke="#20b2aa" stroke-opacity="0.5" stroke-width="0.7"/>
<circle cx="115.7" cy="371.1" r="1.65" fill="#20b2aa" fill-opacity="0.5" stroke="#20b2aa" stroke-opacity="0.5" stroke-width="0.7"/>
<circle cx="134.1" cy="372.5" r="1.65" fill="#20b2aa" fill-opacity="0.5" stroke="#20b2aa" stroke-opacity="0.5" stroke-width="0.7"/>
<circle cx="134.7" cy="364.7" r="1.65" fill="#20b2aa" fill-opacity="0.5" stroke="#20b2aa" stroke-opacity="0.5" stroke-width="0.7"/>
<circle cx="135.9" cy="377.8" r="1.65" fill="#20b2aa" fill-opacity="0.5" stroke="#20b2aa" stroke-opacity="0.5" stroke-width="0.7"/>
<circle cx="127.6" cy="396.6" r="1.65" fill="#20b2aa" fill-opacity="0.5" stroke="#20b2aa" stroke-opacity="0.5" stroke-width="0.7"/>
<circle cx="142.6" cy="386.7" r="1.65" fill="#20b2aa" fill-opacity="0.5" stroke="#20b2aa" stroke-opacity="0.5" stroke-width="0.7"/>
<circle cx="118.4" cy="367.0" r="1.65" fill="#20b2aa" fill-opacity="0.5" stroke="#20b2aa" stroke-opacity="0.5" stroke-width="0.7"/>
<circle cx="124.8" cy="373.8" r="1.65" fill="#20b2aa" fill-opacity="0.5" stroke="#20b2aa" stroke-opacity="0.5" stroke-width="0.7"/>
<circle cx="139.8" cy="375.1" r="1.65" fill="#20b2aa" fill-opacity="0.5" stroke="#20b2aa" stroke-opacity="0.5" stroke-width="0.7"/>
<circle cx="119.9" cy="363.9" r="1.65" fill="#20b2aa" fill-opacity="0.5" stroke="#20b2aa" stroke-opacity="0.5" stroke-width="0.7"/>
<circle cx="127.6" cy="390.2" r="1.65" fill="#20b2aa" fill-opacity="0.5" stroke="#20b2aa" stroke-opacity="0.5" stroke-width="0.7"/>
<circle cx="119.7" cy="379.4" r="1.65" fill="#20b2aa" fill-opacity="0.5" stroke="#20b2aa" stroke-opacity="0.5" stroke-width="0.7"/>
<circle cx="130.0" cy="354.8" r="1.65" fill="#20b2aa" fill-opacity="0.5" stroke="#20b2aa" stroke-opacity="0.5" stroke-width="0.7"/>
<circle cx="135.9" cy="389.5" r="1.65" fill="#20b2aa" fill-opacity="0.5" stroke="#20b2aa" stroke-opacity="0.5" stroke-width="0.7"/>
<circle cx="125.2" cy="364.5" r="1.65" fill="#20b2aa" fill-opacity="0.5" stroke="#20b2aa" stroke-opacity="0.5" stroke-width="0.7"/>
<circle cx="136.7" cy="371.8" r="1.65" fill="#20b2aa" fill-opacity="0.5" stroke="#20b2aa" stroke-opacity="0.5" stroke-width="0.7"/>
<circle cx="112.8" cy="388.3" r="1.65" fill="#20b2aa" fill-opacity="0.5" stroke="#20b2aa" stroke-opacity="0.5" stroke-width="0.7"/>
<circle cx="143.2" cy="383.3" r="1.65" fill="#20b2aa" fill-opacity="0.5" stroke="#20b2aa" stroke-opacity="0.5" stroke-width="0.7"/>
<circle cx="151.6" cy="374.0" r="1.65" fill="#20b2aa" fill-opacity="0.5" stroke="#20b2aa" stroke-opacity="0.5" stroke-width="0.7"/>
<circle cx="126.5" cy="358.1" r="1.65" fill="#20b2aa" fill-opacity="0.5" stroke="#20b2aa" stroke-opacity="0.5" stroke-width="0.7"/>
<circle cx="136.2" cy="364.8" r="1.65" fill="#20b2aa" fill-opacity="0.5" stroke="#20b2aa" stroke-opacity="0.5" stroke-width="0.7"/>
<circle cx="118.6" cy="360.2" r="1.65" fill="#20b2aa" fill-opacity="0.5" stroke="#20b2aa" stroke-opacity="0.5" stroke-width="0.7"/>
<circle cx="114.3" cy="370.5" r="1.65" fill="#20b2aa" fill-opacity="0.5" stroke="#20b2aa" stroke-opacity="0.5" stroke-width="0.7"/>
<circle cx="110.5" cy="381.2" r="1.65" fill="#20b2aa" fill-opacity="0.5" stroke="#20b2aa" stroke-opacity="0.5" stroke-width="0.7"/>
<circle cx="152.5" cy="376.6" r="1.65" fill="#20b2aa" fill-opacity="0.5" stroke="#20b2aa" stroke-opacity="0.5" stroke-width="0.7"/>
<circle cx="132.1" cy="364.1" r="1.65" fill="#20b2aa" fill-opacity="0.5" stroke="#20b2aa" stroke-opacity="0.5" stroke-width="0.7"/>
<circle cx="118.2" cy="389.1" r="1.65" fill="#20b2aa" fill-opacity="0.5" stroke="#20b2aa" stroke-opacity="0.5" stroke-width="0.7"/>
<circle cx="146.1" cy="372.6" r="1.65" fill="#20b2aa" fill-opacity="0.5" stroke="#20b2aa" stroke-opacity="0.5" stroke-width="0.7"/>
<circle cx="135.2" cy="378.5" r="1.65" fill="#20b2aa" fill-opacity="0.5" stroke="#20b2aa" stroke-opacity="0.5" stroke-width="0.7"/>
<circle cx="154.8" cy="376.6" r="1.65" fill="#20b2aa" fill-opacity="0.5" stroke="#20b2aa" stroke-opacity="0.5" stroke-width="0.7"/>
<circle cx="139.5" cy="379.0" r="1.65" fill="#20b2aa" fill-opacity="0.5" stroke="#20b2aa" stroke-opacity="0.5" stroke-width="0.7"/>
<circle cx="145.5" cy="377.5" r="1.65" fill="#20b2aa" fill-opacity="0.5" stroke="#20b2aa" stroke-opacity="0.5" stroke-width="0.7"/>
<circle cx="134.5" cy="349.7" r="1.65" fill="#20b2aa" fill-opacity="0.5" stroke="#20b2aa" stroke-opacity="0.5" stroke-width="0.7"/>
<circle cx="131.5" cy="386.8" r="1.65" fill="#20b2aa" fill-opacity="0.5" stroke="#20b2aa" stroke-opacity="0.5" stroke-width="0.7"/>
<circle cx="137.1" cy="370.5" r="1.65" fill="#20b2aa" fill-opacity="0.5" stroke="#20b2aa" stroke-opacity="0.5" stroke-width="0.7"/>
<circle cx="137.1" cy="380.8" r="1.65" fill="#20b2aa" fill-opacity="0.5" stroke="#20b2aa" stroke-opacity="0.5" stroke-width="0.7"/>
<circle cx="136.3" cy="387.4" r="1.65" fill="#20b2aa" fill-opacity="0.5" stroke="#20b2aa" stroke-opacity="0.5" stroke-width="0.7"/>
<path d="M41.6 243.75H312.25V445.25H41.6Z" fill="none" stroke="#222" stroke-width="1.2"/>
<path d="M50.4 445.25V447.75" stroke="#222" stroke-width="0.9"/>
<text x="50.4" y="456.6" font-family='"Liberation Sans", sans-serif' font-size="8.6" font-weight="normal" fill="#222" text-anchor="middle" textLength="16.2" lengthAdjust="spacingAndGlyphs" >0.75</text>
<path d="M85.7 445.25V447.75" stroke="#222" stroke-width="0.9"/>
<text x="85.7" y="456.6" font-family='"Liberation Sans", sans-serif' font-size="8.6" font-weight="normal" fill="#222" text-anchor="middle" textLength="16.2" lengthAdjust="spacingAndGlyphs" >1.00</text>
<path d="M121.0 445.25V447.75" stroke="#222" stroke-width="0.9"/>
<text x="121.0" y="456.6" font-family='"Liberation Sans", sans-serif' font-size="8.6" font-weight="normal" fill="#222" text-anchor="middle" textLength="16.2" lengthAdjust="spacingAndGlyphs" >1.25</text>
<path d="M156.3 445.25V447.75" stroke="#222" stroke-width="0.9"/>
<text x="156.3" y="456.6" font-family='"Liberation Sans", sans-serif' font-size="8.6" font-weight="normal" fill="#222" text-anchor="middle" textLength="16.2" lengthAdjust="spacingAndGlyphs" >1.50</text>
<path d="M191.6 445.25V447.75" stroke="#222" stroke-width="0.9"/>
<text x="191.6" y="456.6" font-family='"Liberation Sans", sans-serif' font-size="8.6" font-weight="normal" fill="#222" text-anchor="middle" textLength="16.2" lengthAdjust="spacingAndGlyphs" >1.75</text>
<path d="M226.9 445.25V447.75" stroke="#222" stroke-width="0.9"/>
<text x="226.9" y="456.6" font-family='"Liberation Sans", sans-serif' font-size="8.6" font-weight="normal" fill="#222" text-anchor="middle" textLength="16.2" lengthAdjust="spacingAndGlyphs" >2.00</text>
<path d="M262.2 445.25V447.75" stroke="#222" stroke-width="0.9"/>
<text x="262.2" y="456.6" font-family='"Liberation Sans", sans-serif' font-size="8.6" font-weight="normal" fill="#222" text-anchor="middle" textLength="16.2" lengthAdjust="spacingAndGlyphs" >2.25</text>
<path d="M297.5 445.25V447.75" stroke="#222" stroke-width="0.9"/>
<text x="297.5" y="456.6" font-family='"Liberation Sans", sans-serif' font-size="8.6" font-weight="normal" fill="#222" text-anchor="middle" textLength="16.2" lengthAdjust="spacingAndGlyphs" >2.50</text>
<path d="M39.1 439.4H41.6" stroke="#222" stroke-width="0.9"/>
<text x="36.3" y="442.4" font-family='"Liberation Sans", sans-serif' font-size="8.6" font-weight="normal" fill="#222" text-anchor="end" textLength="11" lengthAdjust="spacingAndGlyphs" >0.6</text>
<path d="M39.1 409.7H41.6" stroke="#222" stroke-width="0.9"/>
<text x="36.3" y="412.7" font-family='"Liberation Sans", sans-serif' font-size="8.6" font-weight="normal" fill="#222" text-anchor="end" textLength="11" lengthAdjust="spacingAndGlyphs" >0.8</text>
<path d="M39.1 380.0H41.6" stroke="#222" stroke-width="0.9"/>
<text x="36.3" y="383.0" font-family='"Liberation Sans", sans-serif' font-size="8.6" font-weight="normal" fill="#222" text-anchor="end" textLength="11" lengthAdjust="spacingAndGlyphs" >1.0</text>
<path d="M39.1 350.3H41.6" stroke="#222" stroke-width="0.9"/>
<text x="36.3" y="353.3" font-family='"Liberation Sans", sans-serif' font-size="8.6" font-weight="normal" fill="#222" text-anchor="end" textLength="11" lengthAdjust="spacingAndGlyphs" >1.2</text>
<path d="M39.1 320.6H41.6" stroke="#222" stroke-width="0.9"/>
<text x="36.3" y="323.6" font-family='"Liberation Sans", sans-serif' font-size="8.6" font-weight="normal" fill="#222" text-anchor="end" textLength="11" lengthAdjust="spacingAndGlyphs" >1.4</text>
<path d="M39.1 290.9H41.6" stroke="#222" stroke-width="0.9"/>
<text x="36.3" y="293.9" font-family='"Liberation Sans", sans-serif' font-size="8.6" font-weight="normal" fill="#222" text-anchor="end" textLength="11" lengthAdjust="spacingAndGlyphs" >1.6</text>
<path d="M39.1 261.2H41.6" stroke="#222" stroke-width="0.9"/>
<text x="36.3" y="264.2" font-family='"Liberation Sans", sans-serif' font-size="8.6" font-weight="normal" fill="#222" text-anchor="end" textLength="11" lengthAdjust="spacingAndGlyphs" >1.8</text>
<path d="M155.0 366.4L159.6 374.4L150.4 374.4Z" fill="#0000ff"/>
<rect x="57.6" y="427.4" width="5.2" height="5.2" fill="#ff0000"/>
<rect x="82.3" y="248.4" width="225.2" height="50.70000000000002" rx="2" fill="#fff" fill-opacity="0.8" stroke="#d6d6d6" stroke-width="1"/>
<circle cx="96.89999999999999" cy="258.2" r="2.1" fill="#20b2aa" fill-opacity="0.5"/>
<path d="M96.89999999999999 269.59999999999997L101.19999999999999 277.2L92.6 277.2Z" fill="#0000ff"/>
<rect x="94.49999999999999" y="286.90000000000003" width="4.8" height="4.8" fill="#ff0000"/>
<text x="116.3" y="260.9" font-family='"Liberation Sans", sans-serif' font-size="11.4" font-weight="normal" fill="#111" text-anchor="start" textLength="134" lengthAdjust="spacingAndGlyphs" >Sample w/ Augmentation</text>
<text x="116.3" y="276.6" font-family='"Liberation Sans", sans-serif' font-size="11.4" font-weight="normal" fill="#111" text-anchor="start" textLength="178.8" lengthAdjust="spacingAndGlyphs" >Mean of sample w/ Augmentation</text>
<text x="116.3" y="292.0" font-family='"Liberation Sans", sans-serif' font-size="11.4" font-weight="normal" fill="#111" text-anchor="start" textLength="186.5" lengthAdjust="spacingAndGlyphs" >Mean of Sample w/o Augmentation</text>
<circle cx="417.4" cy="253.7" r="1.65" fill="#20b2aa" fill-opacity="0.5" stroke="#20b2aa" stroke-opacity="0.5" stroke-width="0.7"/>
<circle cx="436.4" cy="251.5" r="1.65" fill="#20b2aa" fill-opacity="0.5" stroke="#20b2aa" stroke-opacity="0.5" stroke-width="0.7"/>
<circle cx="421.6" cy="267.1" r="1.65" fill="#20b2aa" fill-opacity="0.5" stroke="#20b2aa" stroke-opacity="0.5" stroke-width="0.7"/>
<circle cx="411.4" cy="290.9" r="1.65" fill="#20b2aa" fill-opacity="0.5" stroke="#20b2aa" stroke-opacity="0.5" stroke-width="0.7"/>
<circle cx="434.1" cy="294.3" r="1.65" fill="#20b2aa" fill-opacity="0.5" stroke="#20b2aa" stroke-opacity="0.5" stroke-width="0.7"/>
<circle cx="460.2" cy="296.3" r="1.65" fill="#20b2aa" fill-opacity="0.5" stroke="#20b2aa" stroke-opacity="0.5" stroke-width="0.7"/>
<circle cx="401.0" cy="289.6" r="1.65" fill="#20b2aa" fill-opacity="0.5" stroke="#20b2aa" stroke-opacity="0.5" stroke-width="0.7"/>
<circle cx="404.9" cy="303.4" r="1.65" fill="#20b2aa" fill-opacity="0.5" stroke="#20b2aa" stroke-opacity="0.5" stroke-width="0.7"/>
<circle cx="412.7" cy="301.5" r="1.65" fill="#20b2aa" fill-opacity="0.5" stroke="#20b2aa" stroke-opacity="0.5" stroke-width="0.7"/>
<circle cx="413.5" cy="307.0" r="1.65" fill="#20b2aa" fill-opacity="0.5" stroke="#20b2aa" stroke-opacity="0.5" stroke-width="0.7"/>
<circle cx="415.3" cy="312.0" r="1.65" fill="#20b2aa" fill-opacity="0.5" stroke="#20b2aa" stroke-opacity="0.5" stroke-width="0.7"/>
<circle cx="401.0" cy="314.3" r="1.65" fill="#20b2aa" fill-opacity="0.5" stroke="#20b2aa" stroke-opacity="0.5" stroke-width="0.7"/>
<circle cx="405.2" cy="318.7" r="1.65" fill="#20b2aa" fill-opacity="0.5" stroke="#20b2aa" stroke-opacity="0.5" stroke-width="0.7"/>
<circle cx="427.1" cy="308.5" r="1.65" fill="#20b2aa" fill-opacity="0.5" stroke="#20b2aa" stroke-opacity="0.5" stroke-width="0.7"/>
<circle cx="434.1" cy="310.9" r="1.65" fill="#20b2aa" fill-opacity="0.5" stroke="#20b2aa" stroke-opacity="0.5" stroke-width="0.7"/>
<circle cx="439.6" cy="305.2" r="1.65" fill="#20b2aa" fill-opacity="0.5" stroke="#20b2aa" stroke-opacity="0.5" stroke-width="0.7"/>
<circle cx="443.9" cy="307.8" r="1.65" fill="#20b2aa" fill-opacity="0.5" stroke="#20b2aa" stroke-opacity="0.5" stroke-width="0.7"/>
<circle cx="444.2" cy="303.4" r="1.65" fill="#20b2aa" fill-opacity="0.5" stroke="#20b2aa" stroke-opacity="0.5" stroke-width="0.7"/>
<circle cx="445.8" cy="301.0" r="1.65" fill="#20b2aa" fill-opacity="0.5" stroke="#20b2aa" stroke-opacity="0.5" stroke-width="0.7"/>
<circle cx="439.2" cy="313.5" r="1.65" fill="#20b2aa" fill-opacity="0.5" stroke="#20b2aa" stroke-opacity="0.5" stroke-width="0.7"/>
<circle cx="450.5" cy="315.9" r="1.65" fill="#20b2aa" fill-opacity="0.5" stroke="#20b2aa" stroke-opacity="0.5" stroke-width="0.7"/>
<circle cx="456.8" cy="317.4" r="1.65" fill="#20b2aa" fill-opacity="0.5" stroke="#20b2aa" stroke-opacity="0.5" stroke-width="0.7"/>
<circle cx="458.3" cy="308.1" r="1.65" fill="#20b2aa" fill-opacity="0.5" stroke="#20b2aa" stroke-opacity="0.5" stroke-width="0.7"/>
<circle cx="461.4" cy="309.6" r="1.65" fill="#20b2aa" fill-opacity="0.5" stroke="#20b2aa" stroke-opacity="0.5" stroke-width="0.7"/>
<circle cx="462.2" cy="304.2" r="1.65" fill="#20b2aa" fill-opacity="0.5" stroke="#20b2aa" stroke-opacity="0.5" stroke-width="0.7"/>
<circle cx="518.6" cy="265.9" r="1.65" fill="#20b2aa" fill-opacity="0.5" stroke="#20b2aa" stroke-opacity="0.5" stroke-width="0.7"/>
<circle cx="511.6" cy="276.8" r="1.65" fill="#20b2aa" fill-opacity="0.5" stroke="#20b2aa" stroke-opacity="0.5" stroke-width="0.7"/>
<circle cx="465.5" cy="293.7" r="1.65" fill="#20b2aa" fill-opacity="0.5" stroke="#20b2aa" stroke-opacity="0.5" stroke-width="0.7"/>
<circle cx="479.6" cy="292.4" r="1.65" fill="#20b2aa" fill-opacity="0.5" stroke="#20b2aa" stroke-opacity="0.5" stroke-width="0.7"/>
<circle cx="478.8" cy="297.1" r="1.65" fill="#20b2aa" fill-opacity="0.5" stroke="#20b2aa" stroke-opacity="0.5" stroke-width="0.7"/>
<circle cx="492.8" cy="295.6" r="1.65" fill="#20b2aa" fill-opacity="0.5" stroke="#20b2aa" stroke-opacity="0.5" stroke-width="0.7"/>
<circle cx="493.6" cy="297.9" r="1.65" fill="#20b2aa" fill-opacity="0.5" stroke="#20b2aa" stroke-opacity="0.5" stroke-width="0.7"/>
<circle cx="467.1" cy="300.6" r="1.65" fill="#20b2aa" fill-opacity="0.5" stroke="#20b2aa" stroke-opacity="0.5" stroke-width="0.7"/>
<circle cx="467.8" cy="303.1" r="1.65" fill="#20b2aa" fill-opacity="0.5" stroke="#20b2aa" stroke-opacity="0.5" stroke-width="0.7"/>
<circle cx="467.8" cy="309.6" r="1.65" fill="#20b2aa" fill-opacity="0.5" stroke="#20b2aa" stroke-opacity="0.5" stroke-width="0.7"/>
<circle cx="471.8" cy="306.2" r="1.65" fill="#20b2aa" fill-opacity="0.5" stroke="#20b2aa" stroke-opacity="0.5" stroke-width="0.7"/>
<circle cx="472.5" cy="311.2" r="1.65" fill="#20b2aa" fill-opacity="0.5" stroke="#20b2aa" stroke-opacity="0.5" stroke-width="0.7"/>
<circle cx="479.6" cy="305.2" r="1.65" fill="#20b2aa" fill-opacity="0.5" stroke="#20b2aa" stroke-opacity="0.5" stroke-width="0.7"/>
<circle cx="484.2" cy="308.1" r="1.65" fill="#20b2aa" fill-opacity="0.5" stroke="#20b2aa" stroke-opacity="0.5" stroke-width="0.7"/>
<circle cx="483.0" cy="311.5" r="1.65" fill="#20b2aa" fill-opacity="0.5" stroke="#20b2aa" stroke-opacity="0.5" stroke-width="0.7"/>
<circle cx="478.8" cy="311.2" r="1.65" fill="#20b2aa" fill-opacity="0.5" stroke="#20b2aa" stroke-opacity="0.5" stroke-width="0.7"/>
<circle cx="480.3" cy="315.1" r="1.65" fill="#20b2aa" fill-opacity="0.5" stroke="#20b2aa" stroke-opacity="0.5" stroke-width="0.7"/>
<circle cx="486.6" cy="314.3" r="1.65" fill="#20b2aa" fill-opacity="0.5" stroke="#20b2aa" stroke-opacity="0.5" stroke-width="0.7"/>
<circle cx="488.9" cy="302.6" r="1.65" fill="#20b2aa" fill-opacity="0.5" stroke="#20b2aa" stroke-opacity="0.5" stroke-width="0.7"/>
<circle cx="492.1" cy="304.2" r="1.65" fill="#20b2aa" fill-opacity="0.5" stroke="#20b2aa" stroke-opacity="0.5" stroke-width="0.7"/>
<circle cx="488.2" cy="308.8" r="1.65" fill="#20b2aa" fill-opacity="0.5" stroke="#20b2aa" stroke-opacity="0.5" stroke-width="0.7"/>
<circle cx="500.7" cy="306.5" r="1.65" fill="#20b2aa" fill-opacity="0.5" stroke="#20b2aa" stroke-opacity="0.5" stroke-width="0.7"/>
<circle cx="501.4" cy="309.6" r="1.65" fill="#20b2aa" fill-opacity="0.5" stroke="#20b2aa" stroke-opacity="0.5" stroke-width="0.7"/>
<circle cx="506.9" cy="307.8" r="1.65" fill="#20b2aa" fill-opacity="0.5" stroke="#20b2aa" stroke-opacity="0.5" stroke-width="0.7"/>
<circle cx="506.1" cy="311.5" r="1.65" fill="#20b2aa" fill-opacity="0.5" stroke="#20b2aa" stroke-opacity="0.5" stroke-width="0.7"/>
<circle cx="512.4" cy="309.3" r="1.65" fill="#20b2aa" fill-opacity="0.5" stroke="#20b2aa" stroke-opacity="0.5" stroke-width="0.7"/>
<circle cx="517.1" cy="309.3" r="1.65" fill="#20b2aa" fill-opacity="0.5" stroke="#20b2aa" stroke-opacity="0.5" stroke-width="0.7"/>
<circle cx="519.4" cy="311.5" r="1.65" fill="#20b2aa" fill-opacity="0.5" stroke="#20b2aa" stroke-opacity="0.5" stroke-width="0.7"/>
<circle cx="520.5" cy="299.5" r="1.65" fill="#20b2aa" fill-opacity="0.5" stroke="#20b2aa" stroke-opacity="0.5" stroke-width="0.7"/>
<circle cx="532.7" cy="307.3" r="1.65" fill="#20b2aa" fill-opacity="0.5" stroke="#20b2aa" stroke-opacity="0.5" stroke-width="0.7"/>
<circle cx="544.4" cy="305.2" r="1.65" fill="#20b2aa" fill-opacity="0.5" stroke="#20b2aa" stroke-opacity="0.5" stroke-width="0.7"/>
<circle cx="462.4" cy="313.5" r="1.65" fill="#20b2aa" fill-opacity="0.5" stroke="#20b2aa" stroke-opacity="0.5" stroke-width="0.7"/>
<circle cx="468.6" cy="315.1" r="1.65" fill="#20b2aa" fill-opacity="0.5" stroke="#20b2aa" stroke-opacity="0.5" stroke-width="0.7"/>
<circle cx="474.9" cy="317.4" r="1.65" fill="#20b2aa" fill-opacity="0.5" stroke="#20b2aa" stroke-opacity="0.5" stroke-width="0.7"/>
<circle cx="478.0" cy="317.4" r="1.65" fill="#20b2aa" fill-opacity="0.5" stroke="#20b2aa" stroke-opacity="0.5" stroke-width="0.7"/>
<circle cx="496.0" cy="317.4" r="1.65" fill="#20b2aa" fill-opacity="0.5" stroke="#20b2aa" stroke-opacity="0.5" stroke-width="0.7"/>
<circle cx="485.8" cy="318.7" r="1.65" fill="#20b2aa" fill-opacity="0.5" stroke="#20b2aa" stroke-opacity="0.5" stroke-width="0.7"/>
<circle cx="578.3" cy="300.2" r="1.65" fill="#20b2aa" fill-opacity="0.5" stroke="#20b2aa" stroke-opacity="0.5" stroke-width="0.7"/>
<circle cx="599.9" cy="299.0" r="1.65" fill="#20b2aa" fill-opacity="0.5" stroke="#20b2aa" stroke-opacity="0.5" stroke-width="0.7"/>
<circle cx="618.6" cy="295.9" r="1.65" fill="#20b2aa" fill-opacity="0.5" stroke="#20b2aa" stroke-opacity="0.5" stroke-width="0.7"/>
<circle cx="418.9" cy="319.4" r="1.65" fill="#20b2aa" fill-opacity="0.5" stroke="#20b2aa" stroke-opacity="0.5" stroke-width="0.7"/>
<circle cx="444.2" cy="318.6" r="1.65" fill="#20b2aa" fill-opacity="0.5" stroke="#20b2aa" stroke-opacity="0.5" stroke-width="0.7"/>
<circle cx="394.2" cy="324.8" r="1.65" fill="#20b2aa" fill-opacity="0.5" stroke="#20b2aa" stroke-opacity="0.5" stroke-width="0.7"/>
<circle cx="395.0" cy="326.9" r="1.65" fill="#20b2aa" fill-opacity="0.5" stroke="#20b2aa" stroke-opacity="0.5" stroke-width="0.7"/>
<circle cx="399.2" cy="329.1" r="1.65" fill="#20b2aa" fill-opacity="0.5" stroke="#20b2aa" stroke-opacity="0.5" stroke-width="0.7"/>
<circle cx="416.1" cy="326.9" r="1.65" fill="#20b2aa" fill-opacity="0.5" stroke="#20b2aa" stroke-opacity="0.5" stroke-width="0.7"/>
<circle cx="418.9" cy="326.9" r="1.65" fill="#20b2aa" fill-opacity="0.5" stroke="#20b2aa" stroke-opacity="0.5" stroke-width="0.7"/>
<circle cx="429.4" cy="329.1" r="1.65" fill="#20b2aa" fill-opacity="0.5" stroke="#20b2aa" stroke-opacity="0.5" stroke-width="0.7"/>
<circle cx="438.0" cy="322.5" r="1.65" fill="#20b2aa" fill-opacity="0.5" stroke="#20b2aa" stroke-opacity="0.5" stroke-width="0.7"/>
<circle cx="439.6" cy="324.8" r="1.65" fill="#20b2aa" fill-opacity="0.5" stroke="#20b2aa" stroke-opacity="0.5" stroke-width="0.7"/>
<circle cx="441.1" cy="321.7" r="1.65" fill="#20b2aa" fill-opacity="0.5" stroke="#20b2aa" stroke-opacity="0.5" stroke-width="0.7"/>
<circle cx="436.4" cy="327.2" r="1.65" fill="#20b2aa" fill-opacity="0.5" stroke="#20b2aa" stroke-opacity="0.5" stroke-width="0.7"/>
<circle cx="434.1" cy="330.3" r="1.65" fill="#20b2aa" fill-opacity="0.5" stroke="#20b2aa" stroke-opacity="0.5" stroke-width="0.7"/>
<circle cx="445.8" cy="324.1" r="1.65" fill="#20b2aa" fill-opacity="0.5" stroke="#20b2aa" stroke-opacity="0.5" stroke-width="0.7"/>
<circle cx="449.7" cy="324.1" r="1.65" fill="#20b2aa" fill-opacity="0.5" stroke="#20b2aa" stroke-opacity="0.5" stroke-width="0.7"/>
<circle cx="452.8" cy="322.5" r="1.65" fill="#20b2aa" fill-opacity="0.5" stroke="#20b2aa" stroke-opacity="0.5" stroke-width="0.7"/>
<circle cx="455.2" cy="324.8" r="1.65" fill="#20b2aa" fill-opacity="0.5" stroke="#20b2aa" stroke-opacity="0.5" stroke-width="0.7"/>
<circle cx="459.9" cy="324.1" r="1.65" fill="#20b2aa" fill-opacity="0.5" stroke="#20b2aa" stroke-opacity="0.5" stroke-width="0.7"/>
<circle cx="452.1" cy="327.2" r="1.65" fill="#20b2aa" fill-opacity="0.5" stroke="#20b2aa" stroke-opacity="0.5" stroke-width="0.7"/>
<circle cx="456.8" cy="330.3" r="1.65" fill="#20b2aa" fill-opacity="0.5" stroke="#20b2aa" stroke-opacity="0.5" stroke-width="0.7"/>
<circle cx="461.4" cy="328.8" r="1.65" fill="#20b2aa" fill-opacity="0.5" stroke="#20b2aa" stroke-opacity="0.5" stroke-width="0.7"/>
<circle cx="389.9" cy="331.6" r="1.65" fill="#20b2aa" fill-opacity="0.5" stroke="#20b2aa" stroke-opacity="0.5" stroke-width="0.7"/>
<circle cx="391.1" cy="334.2" r="1.65" fill="#20b2aa" fill-opacity="0.5" stroke="#20b2aa" stroke-opacity="0.5" stroke-width="0.7"/>
<circle cx="402.1" cy="334.2" r="1.65" fill="#20b2aa" fill-opacity="0.5" stroke="#20b2aa" stroke-opacity="0.5" stroke-width="0.7"/>
<circle cx="423.2" cy="333.1" r="1.65" fill="#20b2aa" fill-opacity="0.5" stroke="#20b2aa" stroke-opacity="0.5" stroke-width="0.7"/>
<circle cx="423.9" cy="335.0" r="1.65" fill="#20b2aa" fill-opacity="0.5" stroke="#20b2aa" stroke-opacity="0.5" stroke-width="0.7"/>
<circle cx="434.9" cy="333.1" r="1.65" fill="#20b2aa" fill-opacity="0.5" stroke="#20b2aa" stroke-opacity="0.5" stroke-width="0.7"/>
<circle cx="436.4" cy="336.6" r="1.65" fill="#20b2aa" fill-opacity="0.5" stroke="#20b2aa" stroke-opacity="0.5" stroke-width="0.7"/>
<circle cx="441.9" cy="331.9" r="1.65" fill="#20b2aa" fill-opacity="0.5" stroke="#20b2aa" stroke-opacity="0.5" stroke-width="0.7"/>
<circle cx="450.5" cy="333.4" r="1.65" fill="#20b2aa" fill-opacity="0.5" stroke="#20b2aa" stroke-opacity="0.5" stroke-width="0.7"/>
<circle cx="453.6" cy="332.7" r="1.65" fill="#20b2aa" fill-opacity="0.5" stroke="#20b2aa" stroke-opacity="0.5" stroke-width="0.7"/>
<circle cx="458.3" cy="333.4" r="1.65" fill="#20b2aa" fill-opacity="0.5" stroke="#20b2aa" stroke-opacity="0.5" stroke-width="0.7"/>
<circle cx="461.4" cy="335.0" r="1.65" fill="#20b2aa" fill-opacity="0.5" stroke="#20b2aa" stroke-opacity="0.5" stroke-width="0.7"/>
<circle cx="386.1" cy="340.5" r="1.65" fill="#20b2aa" fill-opacity="0.5" stroke="#20b2aa" stroke-opacity="0.5" stroke-width="0.7"/>
<circle cx="394.2" cy="343.6" r="1.65" fill="#20b2aa" fill-opacity="0.5" stroke="#20b2aa" stroke-opacity="0.5" stroke-width="0.7"/>
<circle cx="398.2" cy="342.0" r="1.65" fill="#20b2aa" fill-opacity="0.5" stroke="#20b2aa" stroke-opacity="0.5" stroke-width="0.7"/>
<circle cx="398.9" cy="338.4" r="1.65" fill="#20b2aa" fill-opacity="0.5" stroke="#20b2aa" stroke-opacity="0.5" stroke-width="0.7"/>
<circle cx="400.8" cy="338.9" r="1.65" fill="#20b2aa" fill-opacity="0.5" stroke="#20b2aa" stroke-opacity="0.5" stroke-width="0.7"/>
<circle cx="415.3" cy="336.6" r="1.65" fill="#20b2aa" fill-opacity="0.5" stroke="#20b2aa" stroke-opacity="0.5" stroke-width="0.7"/>
<circle cx="431.4" cy="338.4" r="1.65" fill="#20b2aa" fill-opacity="0.5" stroke="#20b2aa" stroke-opacity="0.5" stroke-width="0.7"/>
<circle cx="435.2" cy="341.2" r="1.65" fill="#20b2aa" fill-opacity="0.5" stroke="#20b2aa" stroke-opacity="0.5" stroke-width="0.7"/>
<circle cx="439.9" cy="338.1" r="1.65" fill="#20b2aa" fill-opacity="0.5" stroke="#20b2aa" stroke-opacity="0.5" stroke-width="0.7"/>
<circle cx="447.4" cy="339.7" r="1.65" fill="#20b2aa" fill-opacity="0.5" stroke="#20b2aa" stroke-opacity="0.5" stroke-width="0.7"/>
<circle cx="452.8" cy="337.3" r="1.65" fill="#20b2aa" fill-opacity="0.5" stroke="#20b2aa" stroke-opacity="0.5" stroke-width="0.7"/>
<circle cx="455.2" cy="339.7" r="1.65" fill="#20b2aa" fill-opacity="0.5" stroke="#20b2aa" stroke-opacity="0.5" stroke-width="0.7"/>
<circle cx="459.9" cy="337.3" r="1.65" fill="#20b2aa" fill-opacity="0.5" stroke="#20b2aa" stroke-opacity="0.5" stroke-width="0.7"/>
<circle cx="379.4" cy="347.2" r="1.65" fill="#20b2aa" fill-opacity="0.5" stroke="#20b2aa" stroke-opacity="0.5" stroke-width="0.7"/>
<circle cx="375.2" cy="351.4" r="1.65" fill="#20b2aa" fill-opacity="0.5" stroke="#20b2aa" stroke-opacity="0.5" stroke-width="0.7"/>
<circle cx="392.7" cy="353.0" r="1.65" fill="#20b2aa" fill-opacity="0.5" stroke="#20b2aa" stroke-opacity="0.5" stroke-width="0.7"/>
<circle cx="395.8" cy="351.4" r="1.65" fill="#20b2aa" fill-opacity="0.5" stroke="#20b2aa" stroke-opacity="0.5" stroke-width="0.7"/>
<circle cx="399.7" cy="350.9" r="1.65" fill="#20b2aa" fill-opacity="0.5" stroke="#20b2aa" stroke-opacity="0.5" stroke-width="0.7"/>
<circle cx="404.4" cy="352.5" r="1.65" fill="#20b2aa" fill-opacity="0.5" stroke="#20b2aa" stroke-opacity="0.5" stroke-width="0.7"/>
<circle cx="416.1" cy="345.2" r="1.65" fill="#20b2aa" fill-opacity="0.5" stroke="#20b2aa" stroke-opacity="0.5" stroke-width="0.7"/>
<circle cx="421.6" cy="343.1" r="1.65" fill="#20b2aa" fill-opacity="0.5" stroke="#20b2aa" stroke-opacity="0.5" stroke-width="0.7"/>
<circle cx="416.1" cy="350.9" r="1.65" fill="#20b2aa" fill-opacity="0.5" stroke="#20b2aa" stroke-opacity="0.5" stroke-width="0.7"/>
<circle cx="427.1" cy="346.2" r="1.65" fill="#20b2aa" fill-opacity="0.5" stroke="#20b2aa" stroke-opacity="0.5" stroke-width="0.7"/>
<circle cx="428.6" cy="348.8" r="1.65" fill="#20b2aa" fill-opacity="0.5" stroke="#20b2aa" stroke-opacity="0.5" stroke-width="0.7"/>
<circle cx="423.9" cy="349.4" r="1.65" fill="#20b2aa" fill-opacity="0.5" stroke="#20b2aa" stroke-opacity="0.5" stroke-width="0.7"/>
<circle cx="430.2" cy="347.8" r="1.65" fill="#20b2aa" fill-opacity="0.5" stroke="#20b2aa" stroke-opacity="0.5" stroke-width="0.7"/>
<circle cx="434.9" cy="346.7" r="1.65" fill="#20b2aa" fill-opacity="0.5" stroke="#20b2aa" stroke-opacity="0.5" stroke-width="0.7"/>
<circle cx="441.1" cy="349.8" r="1.65" fill="#20b2aa" fill-opacity="0.5" stroke="#20b2aa" stroke-opacity="0.5" stroke-width="0.7"/>
<circle cx="447.4" cy="349.8" r="1.65" fill="#20b2aa" fill-opacity="0.5" stroke="#20b2aa" stroke-opacity="0.5" stroke-width="0.7"/>
<circle cx="448.9" cy="345.2" r="1.65" fill="#20b2aa" fill-opacity="0.5" stroke="#20b2aa" stroke-opacity="0.5" stroke-width="0.7"/>
<circle cx="453.6" cy="343.6" r="1.65" fill="#20b2aa" fill-opacity="0.5" stroke="#20b2aa" stroke-opacity="0.5" stroke-width="0.7"/>
<circle cx="453.6" cy="349.8" r="1.65" fill="#20b2aa" fill-opacity="0.5" stroke="#20b2aa" stroke-opacity="0.5" stroke-width="0.7"/>
<circle cx="461.4" cy="349.1" r="1.65" fill="#20b2aa" fill-opacity="0.5" stroke="#20b2aa" stroke-opacity="0.5" stroke-width="0.7"/>
<circle cx="395.0" cy="360.8" r="1.65" fill="#20b2aa" fill-opacity="0.5" stroke="#20b2aa" stroke-opacity="0.5" stroke-width="0.7"/>
<circle cx="404.4" cy="358.8" r="1.65" fill="#20b2aa" fill-opacity="0.5" stroke="#20b2aa" stroke-opacity="0.5" stroke-width="0.7"/>
<circle cx="406.0" cy="363.9" r="1.65" fill="#20b2aa" fill-opacity="0.5" stroke="#20b2aa" stroke-opacity="0.5" stroke-width="0.7"/>
<circle cx="405.2" cy="360.8" r="1.65" fill="#20b2aa" fill-opacity="0.5" stroke="#20b2aa" stroke-opacity="0.5" stroke-width="0.7"/>
<circle cx="413.0" cy="356.1" r="1.65" fill="#20b2aa" fill-opacity="0.5" stroke="#20b2aa" stroke-opacity="0.5" stroke-width="0.7"/>
<circle cx="415.3" cy="354.5" r="1.65" fill="#20b2aa" fill-opacity="0.5" stroke="#20b2aa" stroke-opacity="0.5" stroke-width="0.7"/>
<circle cx="420.8" cy="355.3" r="1.65" fill="#20b2aa" fill-opacity="0.5" stroke="#20b2aa" stroke-opacity="0.5" stroke-width="0.7"/>
<circle cx="424.7" cy="354.5" r="1.65" fill="#20b2aa" fill-opacity="0.5" stroke="#20b2aa" stroke-opacity="0.5" stroke-width="0.7"/>
<circle cx="421.1" cy="360.0" r="1.65" fill="#20b2aa" fill-opacity="0.5" stroke="#20b2aa" stroke-opacity="0.5" stroke-width="0.7"/>
<circle cx="432.5" cy="354.5" r="1.65" fill="#20b2aa" fill-opacity="0.5" stroke="#20b2aa" stroke-opacity="0.5" stroke-width="0.7"/>
<circle cx="436.4" cy="356.9" r="1.65" fill="#20b2aa" fill-opacity="0.5" stroke="#20b2aa" stroke-opacity="0.5" stroke-width="0.7"/>
<circle cx="435.7" cy="353.8" r="1.65" fill="#20b2aa" fill-opacity="0.5" stroke="#20b2aa" stroke-opacity="0.5" stroke-width="0.7"/>
<circle cx="442.7" cy="353.0" r="1.65" fill="#20b2aa" fill-opacity="0.5" stroke="#20b2aa" stroke-opacity="0.5" stroke-width="0.7"/>
<circle cx="447.4" cy="356.1" r="1.65" fill="#20b2aa" fill-opacity="0.5" stroke="#20b2aa" stroke-opacity="0.5" stroke-width="0.7"/>
<circle cx="452.1" cy="355.3" r="1.65" fill="#20b2aa" fill-opacity="0.5" stroke="#20b2aa" stroke-opacity="0.5" stroke-width="0.7"/>
<circle cx="444.2" cy="360.0" r="1.65" fill="#20b2aa" fill-opacity="0.5" stroke="#20b2aa" stroke-opacity="0.5" stroke-width="0.7"/>
<circle cx="441.1" cy="361.6" r="1.65" fill="#20b2aa" fill-opacity="0.5" stroke="#20b2aa" stroke-opacity="0.5" stroke-width="0.7"/>
<circle cx="448.9" cy="361.6" r="1.65" fill="#20b2aa" fill-opacity="0.5" stroke="#20b2aa" stroke-opacity="0.5" stroke-width="0.7"/>
<circle cx="454.4" cy="358.4" r="1.65" fill="#20b2aa" fill-opacity="0.5" stroke="#20b2aa" stroke-opacity="0.5" stroke-width="0.7"/>
<circle cx="459.1" cy="356.9" r="1.65" fill="#20b2aa" fill-opacity="0.5" stroke="#20b2aa" stroke-opacity="0.5" stroke-width="0.7"/>
<circle cx="390.8" cy="368.6" r="1.65" fill="#20b2aa" fill-opacity="0.5" stroke="#20b2aa" stroke-opacity="0.5" stroke-width="0.7"/>
<circle cx="399.7" cy="365.9" r="1.65" fill="#20b2aa" fill-opacity="0.5" stroke="#20b2aa" stroke-opacity="0.5" stroke-width="0.7"/>
<circle cx="408.6" cy="369.4" r="1.65" fill="#20b2aa" fill-opacity="0.5" stroke="#20b2aa" stroke-opacity="0.5" stroke-width="0.7"/>
<circle cx="414.6" cy="367.5" r="1.65" fill="#20b2aa" fill-opacity="0.5" stroke="#20b2aa" stroke-opacity="0.5" stroke-width="0.7"/>
<circle cx="420.0" cy="369.4" r="1.65" fill="#20b2aa" fill-opacity="0.5" stroke="#20b2aa" stroke-opacity="0.5" stroke-width="0.7"/>
<circle cx="424.7" cy="363.9" r="1.65" fill="#20b2aa" fill-opacity="0.5" stroke="#20b2aa" stroke-opacity="0.5" stroke-width="0.7"/>
<circle cx="427.1" cy="363.1" r="1.65" fill="#20b2aa" fill-opacity="0.5" stroke="#20b2aa" stroke-opacity="0.5" stroke-width="0.7"/>
<circle cx="427.1" cy="368.1" r="1.65" fill="#20b2aa" fill-opacity="0.5" stroke="#20b2aa" stroke-opacity="0.5" stroke-width="0.7"/>
<circle cx="431.8" cy="367.0" r="1.65" fill="#20b2aa" fill-opacity="0.5" stroke="#20b2aa" stroke-opacity="0.5" stroke-width="0.7"/>
<circle cx="434.9" cy="367.8" r="1.65" fill="#20b2aa" fill-opacity="0.5" stroke="#20b2aa" stroke-opacity="0.5" stroke-width="0.7"/>
<circle cx="438.0" cy="364.7" r="1.65" fill="#20b2aa" fill-opacity="0.5" stroke="#20b2aa" stroke-opacity="0.5" stroke-width="0.7"/>
<circle cx="442.7" cy="363.9" r="1.65" fill="#20b2aa" fill-opacity="0.5" stroke="#20b2aa" stroke-opacity="0.5" stroke-width="0.7"/>
<circle cx="452.1" cy="367.0" r="1.65" fill="#20b2aa" fill-opacity="0.5" stroke="#20b2aa" stroke-opacity="0.5" stroke-width="0.7"/>
<circle cx="456.8" cy="369.4" r="1.65" fill="#20b2aa" fill-opacity="0.5" stroke="#20b2aa" stroke-opacity="0.5" stroke-width="0.7"/>
<circle cx="461.4" cy="364.7" r="1.65" fill="#20b2aa" fill-opacity="0.5" stroke="#20b2aa" stroke-opacity="0.5" stroke-width="0.7"/>
<circle cx="378.6" cy="373.8" r="1.65" fill="#20b2aa" fill-opacity="0.5" stroke="#20b2aa" stroke-opacity="0.5" stroke-width="0.7"/>
<circle cx="402.8" cy="373.3" r="1.65" fill="#20b2aa" fill-opacity="0.5" stroke="#20b2aa" stroke-opacity="0.5" stroke-width="0.7"/>
<circle cx="428.6" cy="373.3" r="1.65" fill="#20b2aa" fill-opacity="0.5" stroke="#20b2aa" stroke-opacity="0.5" stroke-width="0.7"/>
<circle cx="431.0" cy="371.7" r="1.65" fill="#20b2aa" fill-opacity="0.5" stroke="#20b2aa" stroke-opacity="0.5" stroke-width="0.7"/>
<circle cx="434.1" cy="372.5" r="1.65" fill="#20b2aa" fill-opacity="0.5" stroke="#20b2aa" stroke-opacity="0.5" stroke-width="0.7"/>
<circle cx="439.6" cy="371.7" r="1.65" fill="#20b2aa" fill-opacity="0.5" stroke="#20b2aa" stroke-opacity="0.5" stroke-width="0.7"/>
<circle cx="444.2" cy="370.9" r="1.65" fill="#20b2aa" fill-opacity="0.5" stroke="#20b2aa" stroke-opacity="0.5" stroke-width="0.7"/>
<circle cx="447.4" cy="374.1" r="1.65" fill="#20b2aa" fill-opacity="0.5" stroke="#20b2aa" stroke-opacity="0.5" stroke-width="0.7"/>
<circle cx="452.8" cy="371.7" r="1.65" fill="#20b2aa" fill-opacity="0.5" stroke="#20b2aa" stroke-opacity="0.5" stroke-width="0.7"/>
<circle cx="459.9" cy="374.1" r="1.65" fill="#20b2aa" fill-opacity="0.5" stroke="#20b2aa" stroke-opacity="0.5" stroke-width="0.7"/>
<circle cx="403.6" cy="382.7" r="1.65" fill="#20b2aa" fill-opacity="0.5" stroke="#20b2aa" stroke-opacity="0.5" stroke-width="0.7"/>
<circle cx="415.3" cy="380.6" r="1.65" fill="#20b2aa" fill-opacity="0.5" stroke="#20b2aa" stroke-opacity="0.5" stroke-width="0.7"/>
<circle cx="416.9" cy="382.2" r="1.65" fill="#20b2aa" fill-opacity="0.5" stroke="#20b2aa" stroke-opacity="0.5" stroke-width="0.7"/>
<circle cx="430.2" cy="376.4" r="1.65" fill="#20b2aa" fill-opacity="0.5" stroke="#20b2aa" stroke-opacity="0.5" stroke-width="0.7"/>
<circle cx="431.8" cy="378.0" r="1.65" fill="#20b2aa" fill-opacity="0.5" stroke="#20b2aa" stroke-opacity="0.5" stroke-width="0.7"/>
<circle cx="438.0" cy="377.2" r="1.65" fill="#20b2aa" fill-opacity="0.5" stroke="#20b2aa" stroke-opacity="0.5" stroke-width="0.7"/>
<circle cx="447.4" cy="378.8" r="1.65" fill="#20b2aa" fill-opacity="0.5" stroke="#20b2aa" stroke-opacity="0.5" stroke-width="0.7"/>
<circle cx="452.8" cy="381.1" r="1.65" fill="#20b2aa" fill-opacity="0.5" stroke="#20b2aa" stroke-opacity="0.5" stroke-width="0.7"/>
<circle cx="456.8" cy="378.0" r="1.65" fill="#20b2aa" fill-opacity="0.5" stroke="#20b2aa" stroke-opacity="0.5" stroke-width="0.7"/>
<circle cx="470.2" cy="311.6" r="1.65" fill="#20b2aa" fill-opacity="0.5" stroke="#20b2aa" stroke-opacity="0.5" stroke-width="0.7"/>
<circle cx="517.1" cy="321.2" r="1.65" fill="#20b2aa" fill-opacity="0.5" stroke="#20b2aa" stroke-opacity="0.5" stroke-width="0.7"/>
<circle cx="520.2" cy="321.7" r="1.65" fill="#20b2aa" fill-opacity="0.5" stroke="#20b2aa" stroke-opacity="0.5" stroke-width="0.7"/>
<circle cx="538.9" cy="325.3" r="1.65" fill="#20b2aa" fill-opacity="0.5" stroke="#20b2aa" stroke-opacity="0.5" stroke-width="0.7"/>
<circle cx="528.0" cy="326.9" r="1.65" fill="#20b2aa" fill-opacity="0.5" stroke="#20b2aa" stroke-opacity="0.5" stroke-width="0.7"/>
<circle cx="462.4" cy="324.8" r="1.65" fill="#20b2aa" fill-opacity="0.5" stroke="#20b2aa" stroke-opacity="0.5" stroke-width="0.7"/>
<circle cx="467.1" cy="326.4" r="1.65" fill="#20b2aa" fill-opacity="0.5" stroke="#20b2aa" stroke-opacity="0.5" stroke-width="0.7"/>
<circle cx="471.8" cy="325.6" r="1.65" fill="#20b2aa" fill-opacity="0.5" stroke="#20b2aa" stroke-opacity="0.5" stroke-width="0.7"/>
<circle cx="472.5" cy="327.5" r="1.65" fill="#20b2aa" fill-opacity="0.5" stroke="#20b2aa" stroke-opacity="0.5" stroke-width="0.7"/>
<circle cx="479.6" cy="324.8" r="1.65" fill="#20b2aa" fill-opacity="0.5" stroke="#20b2aa" stroke-opacity="0.5" stroke-width="0.7"/>
<circle cx="482.7" cy="324.8" r="1.65" fill="#20b2aa" fill-opacity="0.5" stroke="#20b2aa" stroke-opacity="0.5" stroke-width="0.7"/>
<circle cx="486.6" cy="325.6" r="1.65" fill="#20b2aa" fill-opacity="0.5" stroke="#20b2aa" stroke-opacity="0.5" stroke-width="0.7"/>
<circle cx="491.3" cy="326.9" r="1.65" fill="#20b2aa" fill-opacity="0.5" stroke="#20b2aa" stroke-opacity="0.5" stroke-width="0.7"/>
<circle cx="496.0" cy="324.1" r="1.65" fill="#20b2aa" fill-opacity="0.5" stroke="#20b2aa" stroke-opacity="0.5" stroke-width="0.7"/>
<circle cx="502.2" cy="330.3" r="1.65" fill="#20b2aa" fill-opacity="0.5" stroke="#20b2aa" stroke-opacity="0.5" stroke-width="0.7"/>
<circle cx="507.7" cy="330.3" r="1.65" fill="#20b2aa" fill-opacity="0.5" stroke="#20b2aa" stroke-opacity="0.5" stroke-width="0.7"/>
<circle cx="512.4" cy="330.3" r="1.65" fill="#20b2aa" fill-opacity="0.5" stroke="#20b2aa" stroke-opacity="0.5" stroke-width="0.7"/>
<circle cx="514.7" cy="325.6" r="1.65" fill="#20b2aa" fill-opacity="0.5" stroke="#20b2aa" stroke-opacity="0.5" stroke-width="0.7"/>
<circle cx="518.6" cy="328.8" r="1.65" fill="#20b2aa" fill-opacity="0.5" stroke="#20b2aa" stroke-opacity="0.5" stroke-width="0.7"/>
<circle cx="468.6" cy="330.3" r="1.65" fill="#20b2aa" fill-opacity="0.5" stroke="#20b2aa" stroke-opacity="0.5" stroke-width="0.7"/>
<circle cx="470.2" cy="333.4" r="1.65" fill="#20b2aa" fill-opacity="0.5" stroke="#20b2aa" stroke-opacity="0.5" stroke-width="0.7"/>
<circle cx="476.4" cy="333.4" r="1.65" fill="#20b2aa" fill-opacity="0.5" stroke="#20b2aa" stroke-opacity="0.5" stroke-width="0.7"/>
<circle cx="480.3" cy="331.1" r="1.65" fill="#20b2aa" fill-opacity="0.5" stroke="#20b2aa" stroke-opacity="0.5" stroke-width="0.7"/>
<circle cx="485.8" cy="331.1" r="1.65" fill="#20b2aa" fill-opacity="0.5" stroke="#20b2aa" stroke-opacity="0.5" stroke-width="0.7"/>
<circle cx="489.7" cy="334.2" r="1.65" fill="#20b2aa" fill-opacity="0.5" stroke="#20b2aa" stroke-opacity="0.5" stroke-width="0.7"/>
<circle cx="492.1" cy="333.4" r="1.65" fill="#20b2aa" fill-opacity="0.5" stroke="#20b2aa" stroke-opacity="0.5" stroke-width="0.7"/>
<circle cx="496.8" cy="336.6" r="1.65" fill="#20b2aa" fill-opacity="0.5" stroke="#20b2aa" stroke-opacity="0.5" stroke-width="0.7"/>
<circle cx="503.8" cy="333.4" r="1.65" fill="#20b2aa" fill-opacity="0.5" stroke="#20b2aa" stroke-opacity="0.5" stroke-width="0.7"/>
<circle cx="517.1" cy="334.2" r="1.65" fill="#20b2aa" fill-opacity="0.5" stroke="#20b2aa" stroke-opacity="0.5" stroke-width="0.7"/>
<circle cx="524.1" cy="334.2" r="1.65" fill="#20b2aa" fill-opacity="0.5" stroke="#20b2aa" stroke-opacity="0.5" stroke-width="0.7"/>
<circle cx="521.8" cy="338.4" r="1.65" fill="#20b2aa" fill-opacity="0.5" stroke="#20b2aa" stroke-opacity="0.5" stroke-width="0.7"/>
<circle cx="514.7" cy="338.9" r="1.65" fill="#20b2aa" fill-opacity="0.5" stroke="#20b2aa" stroke-opacity="0.5" stroke-width="0.7"/>
<circle cx="535.8" cy="338.1" r="1.65" fill="#20b2aa" fill-opacity="0.5" stroke="#20b2aa" stroke-opacity="0.5" stroke-width="0.7"/>
<circle cx="536.6" cy="340.5" r="1.65" fill="#20b2aa" fill-opacity="0.5" stroke="#20b2aa" stroke-opacity="0.5" stroke-width="0.7"/>
<circle cx="467.8" cy="335.8" r="1.65" fill="#20b2aa" fill-opacity="0.5" stroke="#20b2aa" stroke-opacity="0.5" stroke-width="0.7"/>
<circle cx="473.3" cy="341.2" r="1.65" fill="#20b2aa" fill-opacity="0.5" stroke="#20b2aa" stroke-opacity="0.5" stroke-width="0.7"/>
<circle cx="479.6" cy="337.3" r="1.65" fill="#20b2aa" fill-opacity="0.5" stroke="#20b2aa" stroke-opacity="0.5" stroke-width="0.7"/>
<circle cx="485.0" cy="338.9" r="1.65" fill="#20b2aa" fill-opacity="0.5" stroke="#20b2aa" stroke-opacity="0.5" stroke-width="0.7"/>
<circle cx="485.8" cy="342.0" r="1.65" fill="#20b2aa" fill-opacity="0.5" stroke="#20b2aa" stroke-opacity="0.5" stroke-width="0.7"/>
<circle cx="489.7" cy="336.6" r="1.65" fill="#20b2aa" fill-opacity="0.5" stroke="#20b2aa" stroke-opacity="0.5" stroke-width="0.7"/>
<circle cx="506.1" cy="342.0" r="1.65" fill="#20b2aa" fill-opacity="0.5" stroke="#20b2aa" stroke-opacity="0.5" stroke-width="0.7"/>
<circle cx="502.2" cy="341.2" r="1.65" fill="#20b2aa" fill-opacity="0.5" stroke="#20b2aa" stroke-opacity="0.5" stroke-width="0.7"/>
<circle cx="502.2" cy="346.2" r="1.65" fill="#20b2aa" fill-opacity="0.5" stroke="#20b2aa" stroke-opacity="0.5" stroke-width="0.7"/>
<circle cx="456.1" cy="342.8" r="1.65" fill="#20b2aa" fill-opacity="0.5" stroke="#20b2aa" stroke-opacity="0.5" stroke-width="0.7"/>
<circle cx="470.2" cy="346.7" r="1.65" fill="#20b2aa" fill-opacity="0.5" stroke="#20b2aa" stroke-opacity="0.5" stroke-width="0.7"/>
<circle cx="474.1" cy="349.1" r="1.65" fill="#20b2aa" fill-opacity="0.5" stroke="#20b2aa" stroke-opacity="0.5" stroke-width="0.7"/>
<circle cx="478.0" cy="348.3" r="1.65" fill="#20b2aa" fill-opacity="0.5" stroke="#20b2aa" stroke-opacity="0.5" stroke-width="0.7"/>
<circle cx="480.3" cy="344.4" r="1.65" fill="#20b2aa" fill-opacity="0.5" stroke="#20b2aa" stroke-opacity="0.5" stroke-width="0.7"/>
<circle cx="482.7" cy="350.9" r="1.65" fill="#20b2aa" fill-opacity="0.5" stroke="#20b2aa" stroke-opacity="0.5" stroke-width="0.7"/>
<circle cx="486.6" cy="347.5" r="1.65" fill="#20b2aa" fill-opacity="0.5" stroke="#20b2aa" stroke-opacity="0.5" stroke-width="0.7"/>
<circle cx="490.2" cy="350.9" r="1.65" fill="#20b2aa" fill-opacity="0.5" stroke="#20b2aa" stroke-opacity="0.5" stroke-width="0.7"/>
<circle cx="498.3" cy="351.4" r="1.65" fill="#20b2aa" fill-opacity="0.5" stroke="#20b2aa" stroke-opacity="0.5" stroke-width="0.7"/>
<circle cx="507.7" cy="350.9" r="1.65" fill="#20b2aa" fill-opacity="0.5" stroke="#20b2aa" stroke-opacity="0.5" stroke-width="0.7"/>
<circle cx="511.6" cy="349.8" r="1.65" fill="#20b2aa" fill-opacity="0.5" stroke="#20b2aa" stroke-opacity="0.5" stroke-width="0.7"/>
<circle cx="513.2" cy="351.4" r="1.65" fill="#20b2aa" fill-opacity="0.5" stroke="#20b2aa" stroke-opacity="0.5" stroke-width="0.7"/>
<circle cx="511.6" cy="353.0" r="1.65" fill="#20b2aa" fill-opacity="0.5" stroke="#20b2aa" stroke-opacity="0.5" stroke-width="0.7"/>
<circle cx="506.9" cy="355.3" r="1.65" fill="#20b2aa" fill-opacity="0.5" stroke="#20b2aa" stroke-opacity="0.5" stroke-width="0.7"/>
<circle cx="526.4" cy="357.7" r="1.65" fill="#20b2aa" fill-opacity="0.5" stroke="#20b2aa" stroke-opacity="0.5" stroke-width="0.7"/>
<circle cx="533.0" cy="354.5" r="1.65" fill="#20b2aa" fill-opacity="0.5" stroke="#20b2aa" stroke-opacity="0.5" stroke-width="0.7"/>
<circle cx="467.1" cy="356.9" r="1.65" fill="#20b2aa" fill-opacity="0.5" stroke="#20b2aa" stroke-opacity="0.5" stroke-width="0.7"/>
<circle cx="470.2" cy="360.0" r="1.65" fill="#20b2aa" fill-opacity="0.5" stroke="#20b2aa" stroke-opacity="0.5" stroke-width="0.7"/>
<circle cx="476.4" cy="356.9" r="1.65" fill="#20b2aa" fill-opacity="0.5" stroke="#20b2aa" stroke-opacity="0.5" stroke-width="0.7"/>
<circle cx="478.8" cy="361.6" r="1.65" fill="#20b2aa" fill-opacity="0.5" stroke="#20b2aa" stroke-opacity="0.5" stroke-width="0.7"/>
<circle cx="485.8" cy="358.4" r="1.65" fill="#20b2aa" fill-opacity="0.5" stroke="#20b2aa" stroke-opacity="0.5" stroke-width="0.7"/>
<circle cx="486.6" cy="360.0" r="1.65" fill="#20b2aa" fill-opacity="0.5" stroke="#20b2aa" stroke-opacity="0.5" stroke-width="0.7"/>
<circle cx="490.5" cy="356.1" r="1.65" fill="#20b2aa" fill-opacity="0.5" stroke="#20b2aa" stroke-opacity="0.5" stroke-width="0.7"/>
<circle cx="504.6" cy="360.0" r="1.65" fill="#20b2aa" fill-opacity="0.5" stroke="#20b2aa" stroke-opacity="0.5" stroke-width="0.7"/>
<circle cx="507.7" cy="362.8" r="1.65" fill="#20b2aa" fill-opacity="0.5" stroke="#20b2aa" stroke-opacity="0.5" stroke-width="0.7"/>
<circle cx="518.6" cy="361.6" r="1.65" fill="#20b2aa" fill-opacity="0.5" stroke="#20b2aa" stroke-opacity="0.5" stroke-width="0.7"/>
<circle cx="520.2" cy="363.9" r="1.65" fill="#20b2aa" fill-opacity="0.5" stroke="#20b2aa" stroke-opacity="0.5" stroke-width="0.7"/>
<circle cx="517.8" cy="368.1" r="1.65" fill="#20b2aa" fill-opacity="0.5" stroke="#20b2aa" stroke-opacity="0.5" stroke-width="0.7"/>
<circle cx="529.6" cy="366.2" r="1.65" fill="#20b2aa" fill-opacity="0.5" stroke="#20b2aa" stroke-opacity="0.5" stroke-width="0.7"/>
<circle cx="454.6" cy="367.8" r="1.65" fill="#20b2aa" fill-opacity="0.5" stroke="#20b2aa" stroke-opacity="0.5" stroke-width="0.7"/>
<circle cx="459.2" cy="366.2" r="1.65" fill="#20b2aa" fill-opacity="0.5" stroke="#20b2aa" stroke-opacity="0.5" stroke-width="0.7"/>
<circle cx="463.9" cy="364.7" r="1.65" fill="#20b2aa" fill-opacity="0.5" stroke="#20b2aa" stroke-opacity="0.5" stroke-width="0.7"/>
<circle cx="468.6" cy="367.8" r="1.65" fill="#20b2aa" fill-opacity="0.5" stroke="#20b2aa" stroke-opacity="0.5" stroke-width="0.7"/>
<circle cx="473.3" cy="366.2" r="1.65" fill="#20b2aa" fill-opacity="0.5" stroke="#20b2aa" stroke-opacity="0.5" stroke-width="0.7"/>
<circle cx="478.8" cy="367.8" r="1.65" fill="#20b2aa" fill-opacity="0.5" stroke="#20b2aa" stroke-opacity="0.5" stroke-width="0.7"/>
<circle cx="482.7" cy="364.7" r="1.65" fill="#20b2aa" fill-opacity="0.5" stroke="#20b2aa" stroke-opacity="0.5" stroke-width="0.7"/>
<circle cx="485.8" cy="368.6" r="1.65" fill="#20b2aa" fill-opacity="0.5" stroke="#20b2aa" stroke-opacity="0.5" stroke-width="0.7"/>
<circle cx="490.5" cy="369.4" r="1.65" fill="#20b2aa" fill-opacity="0.5" stroke="#20b2aa" stroke-opacity="0.5" stroke-width="0.7"/>
<circle cx="495.2" cy="369.4" r="1.65" fill="#20b2aa" fill-opacity="0.5" stroke="#20b2aa" stroke-opacity="0.5" stroke-width="0.7"/>
<circle cx="498.3" cy="365.5" r="1.65" fill="#20b2aa" fill-opacity="0.5" stroke="#20b2aa" stroke-opacity="0.5" stroke-width="0.7"/>
<circle cx="503.0" cy="371.2" r="1.65" fill="#20b2aa" fill-opacity="0.5" stroke="#20b2aa" stroke-opacity="0.5" stroke-width="0.7"/>
<circle cx="507.7" cy="367.0" r="1.65" fill="#20b2aa" fill-opacity="0.5" stroke="#20b2aa" stroke-opacity="0.5" stroke-width="0.7"/>
<circle cx="456.1" cy="372.5" r="1.65" fill="#20b2aa" fill-opacity="0.5" stroke="#20b2aa" stroke-opacity="0.5" stroke-width="0.7"/>
<circle cx="461.6" cy="372.5" r="1.65" fill="#20b2aa" fill-opacity="0.5" stroke="#20b2aa" stroke-opacity="0.5" stroke-width="0.7"/>
<circle cx="465.5" cy="375.6" r="1.65" fill="#20b2aa" fill-opacity="0.5" stroke="#20b2aa" stroke-opacity="0.5" stroke-width="0.7"/>
<circle cx="470.2" cy="372.5" r="1.65" fill="#20b2aa" fill-opacity="0.5" stroke="#20b2aa" stroke-opacity="0.5" stroke-width="0.7"/>
<circle cx="474.9" cy="377.2" r="1.65" fill="#20b2aa" fill-opacity="0.5" stroke="#20b2aa" stroke-opacity="0.5" stroke-width="0.7"/>
<circle cx="479.6" cy="372.5" r="1.65" fill="#20b2aa" fill-opacity="0.5" stroke="#20b2aa" stroke-opacity="0.5" stroke-width="0.7"/>
<circle cx="485.8" cy="374.1" r="1.65" fill="#20b2aa" fill-opacity="0.5" stroke="#20b2aa" stroke-opacity="0.5" stroke-width="0.7"/>
<circle cx="492.1" cy="375.6" r="1.65" fill="#20b2aa" fill-opacity="0.5" stroke="#20b2aa" stroke-opacity="0.5" stroke-width="0.7"/>
<circle cx="496.8" cy="373.8" r="1.65" fill="#20b2aa" fill-opacity="0.5" stroke="#20b2aa" stroke-opacity="0.5" stroke-width="0.7"/>
<circle cx="510.0" cy="377.2" r="1.65" fill="#20b2aa" fill-opacity="0.5" stroke="#20b2aa" stroke-opacity="0.5" stroke-width="0.7"/>
<circle cx="513.9" cy="381.9" r="1.65" fill="#20b2aa" fill-opacity="0.5" stroke="#20b2aa" stroke-opacity="0.5" stroke-width="0.7"/>
<circle cx="460.8" cy="380.3" r="1.65" fill="#20b2aa" fill-opacity="0.5" stroke="#20b2aa" stroke-opacity="0.5" stroke-width="0.7"/>
<circle cx="470.2" cy="381.9" r="1.65" fill="#20b2aa" fill-opacity="0.5" stroke="#20b2aa" stroke-opacity="0.5" stroke-width="0.7"/>
<circle cx="476.4" cy="381.9" r="1.65" fill="#20b2aa" fill-opacity="0.5" stroke="#20b2aa" stroke-opacity="0.5" stroke-width="0.7"/>
<circle cx="482.7" cy="380.3" r="1.65" fill="#20b2aa" fill-opacity="0.5" stroke="#20b2aa" stroke-opacity="0.5" stroke-width="0.7"/>
<circle cx="487.4" cy="383.4" r="1.65" fill="#20b2aa" fill-opacity="0.5" stroke="#20b2aa" stroke-opacity="0.5" stroke-width="0.7"/>
<circle cx="493.6" cy="381.9" r="1.65" fill="#20b2aa" fill-opacity="0.5" stroke="#20b2aa" stroke-opacity="0.5" stroke-width="0.7"/>
<circle cx="498.3" cy="378.8" r="1.65" fill="#20b2aa" fill-opacity="0.5" stroke="#20b2aa" stroke-opacity="0.5" stroke-width="0.7"/>
<circle cx="506.1" cy="383.4" r="1.65" fill="#20b2aa" fill-opacity="0.5" stroke="#20b2aa" stroke-opacity="0.5" stroke-width="0.7"/>
<circle cx="581.8" cy="320.6" r="1.65" fill="#20b2aa" fill-opacity="0.5" stroke="#20b2aa" stroke-opacity="0.5" stroke-width="0.7"/>
<circle cx="621.3" cy="337.8" r="1.65" fill="#20b2aa" fill-opacity="0.5" stroke="#20b2aa" stroke-opacity="0.5" stroke-width="0.7"/>
<circle cx="555.2" cy="361.2" r="1.65" fill="#20b2aa" fill-opacity="0.5" stroke="#20b2aa" stroke-opacity="0.5" stroke-width="0.7"/>
<circle cx="569.2" cy="361.9" r="1.65" fill="#20b2aa" fill-opacity="0.5" stroke="#20b2aa" stroke-opacity="0.5" stroke-width="0.7"/>
<circle cx="578.0" cy="361.2" r="1.65" fill="#20b2aa" fill-opacity="0.5" stroke="#20b2aa" stroke-opacity="0.5" stroke-width="0.7"/>
<circle cx="574.2" cy="370.0" r="1.65" fill="#20b2aa" fill-opacity="0.5" stroke="#20b2aa" stroke-opacity="0.5" stroke-width="0.7"/>
<circle cx="578.6" cy="383.8" r="1.65" fill="#20b2aa" fill-opacity="0.5" stroke="#20b2aa" stroke-opacity="0.5" stroke-width="0.7"/>
<circle cx="427.8" cy="377.0" r="1.65" fill="#20b2aa" fill-opacity="0.5" stroke="#20b2aa" stroke-opacity="0.5" stroke-width="0.7"/>
<circle cx="445.8" cy="376.2" r="1.65" fill="#20b2aa" fill-opacity="0.5" stroke="#20b2aa" stroke-opacity="0.5" stroke-width="0.7"/>
<circle cx="459.9" cy="377.8" r="1.65" fill="#20b2aa" fill-opacity="0.5" stroke="#20b2aa" stroke-opacity="0.5" stroke-width="0.7"/>
<circle cx="448.6" cy="382.5" r="1.65" fill="#20b2aa" fill-opacity="0.5" stroke="#20b2aa" stroke-opacity="0.5" stroke-width="0.7"/>
<circle cx="460.7" cy="385.3" r="1.65" fill="#20b2aa" fill-opacity="0.5" stroke="#20b2aa" stroke-opacity="0.5" stroke-width="0.7"/>
<circle cx="418.5" cy="380.2" r="1.65" fill="#20b2aa" fill-opacity="0.5" stroke="#20b2aa" stroke-opacity="0.5" stroke-width="0.7"/>
<circle cx="420.5" cy="376.6" r="1.65" fill="#20b2aa" fill-opacity="0.5" stroke="#20b2aa" stroke-opacity="0.5" stroke-width="0.7"/>
<circle cx="423.9" cy="386.4" r="1.65" fill="#20b2aa" fill-opacity="0.5" stroke="#20b2aa" stroke-opacity="0.5" stroke-width="0.7"/>
<circle cx="430.5" cy="385.3" r="1.65" fill="#20b2aa" fill-opacity="0.5" stroke="#20b2aa" stroke-opacity="0.5" stroke-width="0.7"/>
<circle cx="410.7" cy="389.5" r="1.65" fill="#20b2aa" fill-opacity="0.5" stroke="#20b2aa" stroke-opacity="0.5" stroke-width="0.7"/>
<circle cx="413.0" cy="395.8" r="1.65" fill="#20b2aa" fill-opacity="0.5" stroke="#20b2aa" stroke-opacity="0.5" stroke-width="0.7"/>
<circle cx="422.1" cy="394.2" r="1.65" fill="#20b2aa" fill-opacity="0.5" stroke="#20b2aa" stroke-opacity="0.5" stroke-width="0.7"/>
<circle cx="426.3" cy="395.0" r="1.65" fill="#20b2aa" fill-opacity="0.5" stroke="#20b2aa" stroke-opacity="0.5" stroke-width="0.7"/>
<circle cx="416.1" cy="399.7" r="1.65" fill="#20b2aa" fill-opacity="0.5" stroke="#20b2aa" stroke-opacity="0.5" stroke-width="0.7"/>
<circle cx="442.4" cy="396.2" r="1.65" fill="#20b2aa" fill-opacity="0.5" stroke="#20b2aa" stroke-opacity="0.5" stroke-width="0.7"/>
<circle cx="445.8" cy="393.1" r="1.65" fill="#20b2aa" fill-opacity="0.5" stroke="#20b2aa" stroke-opacity="0.5" stroke-width="0.7"/>
<circle cx="447.4" cy="394.2" r="1.65" fill="#20b2aa" fill-opacity="0.5" stroke="#20b2aa" stroke-opacity="0.5" stroke-width="0.7"/>
<circle cx="451.3" cy="391.1" r="1.65" fill="#20b2aa" fill-opacity="0.5" stroke="#20b2aa" stroke-opacity="0.5" stroke-width="0.7"/>
<circle cx="413.3" cy="406.7" r="1.65" fill="#20b2aa" fill-opacity="0.5" stroke="#20b2aa" stroke-opacity="0.5" stroke-width="0.7"/>
<circle cx="398.6" cy="422.8" r="1.65" fill="#20b2aa" fill-opacity="0.5" stroke="#20b2aa" stroke-opacity="0.5" stroke-width="0.7"/>
<circle cx="455.3" cy="376.2" r="1.65" fill="#20b2aa" fill-opacity="0.5" stroke="#20b2aa" stroke-opacity="0.5" stroke-width="0.7"/>
<circle cx="463.9" cy="371.6" r="1.65" fill="#20b2aa" fill-opacity="0.5" stroke="#20b2aa" stroke-opacity="0.5" stroke-width="0.7"/>
<circle cx="473.3" cy="371.6" r="1.65" fill="#20b2aa" fill-opacity="0.5" stroke="#20b2aa" stroke-opacity="0.5" stroke-width="0.7"/>
<circle cx="492.1" cy="371.6" r="1.65" fill="#20b2aa" fill-opacity="0.5" stroke="#20b2aa" stroke-opacity="0.5" stroke-width="0.7"/>
<circle cx="471.8" cy="376.2" r="1.65" fill="#20b2aa" fill-opacity="0.5" stroke="#20b2aa" stroke-opacity="0.5" stroke-width="0.7"/>
<circle cx="478.0" cy="378.6" r="1.65" fill="#20b2aa" fill-opacity="0.5" stroke="#20b2aa" stroke-opacity="0.5" stroke-width="0.7"/>
<circle cx="465.5" cy="378.6" r="1.65" fill="#20b2aa" fill-opacity="0.5" stroke="#20b2aa" stroke-opacity="0.5" stroke-width="0.7"/>
<circle cx="479.6" cy="379.4" r="1.65" fill="#20b2aa" fill-opacity="0.5" stroke="#20b2aa" stroke-opacity="0.5" stroke-width="0.7"/>
<circle cx="485.8" cy="380.6" r="1.65" fill="#20b2aa" fill-opacity="0.5" stroke="#20b2aa" stroke-opacity="0.5" stroke-width="0.7"/>
<circle cx="490.5" cy="378.6" r="1.65" fill="#20b2aa" fill-opacity="0.5" stroke="#20b2aa" stroke-opacity="0.5" stroke-width="0.7"/>
<circle cx="496.8" cy="382.5" r="1.65" fill="#20b2aa" fill-opacity="0.5" stroke="#20b2aa" stroke-opacity="0.5" stroke-width="0.7"/>
<circle cx="465.5" cy="384.4" r="1.65" fill="#20b2aa" fill-opacity="0.5" stroke="#20b2aa" stroke-opacity="0.5" stroke-width="0.7"/>
<circle cx="467.8" cy="388.4" r="1.65" fill="#20b2aa" fill-opacity="0.5" stroke="#20b2aa" stroke-opacity="0.5" stroke-width="0.7"/>
<circle cx="481.1" cy="385.3" r="1.65" fill="#20b2aa" fill-opacity="0.5" stroke="#20b2aa" stroke-opacity="0.5" stroke-width="0.7"/>
<circle cx="492.1" cy="385.6" r="1.65" fill="#20b2aa" fill-opacity="0.5" stroke="#20b2aa" stroke-opacity="0.5" stroke-width="0.7"/>
<circle cx="487.7" cy="390.6" r="1.65" fill="#20b2aa" fill-opacity="0.5" stroke="#20b2aa" stroke-opacity="0.5" stroke-width="0.7"/>
<circle cx="492.8" cy="392.7" r="1.65" fill="#20b2aa" fill-opacity="0.5" stroke="#20b2aa" stroke-opacity="0.5" stroke-width="0.7"/>
<circle cx="501.4" cy="391.9" r="1.65" fill="#20b2aa" fill-opacity="0.5" stroke="#20b2aa" stroke-opacity="0.5" stroke-width="0.7"/>
<circle cx="528.3" cy="390.0" r="1.65" fill="#20b2aa" fill-opacity="0.5" stroke="#20b2aa" stroke-opacity="0.5" stroke-width="0.7"/>
<circle cx="535.8" cy="394.2" r="1.65" fill="#20b2aa" fill-opacity="0.5" stroke="#20b2aa" stroke-opacity="0.5" stroke-width="0.7"/>
<circle cx="472.5" cy="395.8" r="1.65" fill="#20b2aa" fill-opacity="0.5" stroke="#20b2aa" stroke-opacity="0.5" stroke-width="0.7"/>
<circle cx="471.8" cy="398.4" r="1.65" fill="#20b2aa" fill-opacity="0.5" stroke="#20b2aa" stroke-opacity="0.5" stroke-width="0.7"/>
<circle cx="476.4" cy="398.4" r="1.65" fill="#20b2aa" fill-opacity="0.5" stroke="#20b2aa" stroke-opacity="0.5" stroke-width="0.7"/>
<circle cx="481.1" cy="401.2" r="1.65" fill="#20b2aa" fill-opacity="0.5" stroke="#20b2aa" stroke-opacity="0.5" stroke-width="0.7"/>
<circle cx="470.5" cy="402.8" r="1.65" fill="#20b2aa" fill-opacity="0.5" stroke="#20b2aa" stroke-opacity="0.5" stroke-width="0.7"/>
<circle cx="523.0" cy="403.1" r="1.65" fill="#20b2aa" fill-opacity="0.5" stroke="#20b2aa" stroke-opacity="0.5" stroke-width="0.7"/>
<circle cx="466.3" cy="410.9" r="1.65" fill="#20b2aa" fill-opacity="0.5" stroke="#20b2aa" stroke-opacity="0.5" stroke-width="0.7"/>
<circle cx="494.9" cy="430.6" r="1.65" fill="#20b2aa" fill-opacity="0.5" stroke="#20b2aa" stroke-opacity="0.5" stroke-width="0.7"/>
<circle cx="483.9" cy="435.6" r="1.65" fill="#20b2aa" fill-opacity="0.5" stroke="#20b2aa" stroke-opacity="0.5" stroke-width="0.7"/>
<circle cx="608.6" cy="404.1" r="1.65" fill="#20b2aa" fill-opacity="0.5" stroke="#20b2aa" stroke-opacity="0.5" stroke-width="0.7"/>
<circle cx="453.6" cy="366.9" r="1.65" fill="#20b2aa" fill-opacity="0.5" stroke="#20b2aa" stroke-opacity="0.5" stroke-width="0.7"/>
<circle cx="486.9" cy="355.3" r="1.65" fill="#20b2aa" fill-opacity="0.5" stroke="#20b2aa" stroke-opacity="0.5" stroke-width="0.7"/>
<circle cx="452.1" cy="361.1" r="1.65" fill="#20b2aa" fill-opacity="0.5" stroke="#20b2aa" stroke-opacity="0.5" stroke-width="0.7"/>
<circle cx="479.2" cy="376.3" r="1.65" fill="#20b2aa" fill-opacity="0.5" stroke="#20b2aa" stroke-opacity="0.5" stroke-width="0.7"/>
<circle cx="453.8" cy="345.2" r="1.65" fill="#20b2aa" fill-opacity="0.5" stroke="#20b2aa" stroke-opacity="0.5" stroke-width="0.7"/>
<circle cx="482.6" cy="368.2" r="1.65" fill="#20b2aa" fill-opacity="0.5" stroke="#20b2aa" stroke-opacity="0.5" stroke-width="0.7"/>
<circle cx="495.0" cy="374.8" r="1.65" fill="#20b2aa" fill-opacity="0.5" stroke="#20b2aa" stroke-opacity="0.5" stroke-width="0.7"/>
<circle cx="470.5" cy="358.4" r="1.65" fill="#20b2aa" fill-opacity="0.5" stroke="#20b2aa" stroke-opacity="0.5" stroke-width="0.7"/>
<circle cx="460.2" cy="347.2" r="1.65" fill="#20b2aa" fill-opacity="0.5" stroke="#20b2aa" stroke-opacity="0.5" stroke-width="0.7"/>
<circle cx="473.4" cy="363.9" r="1.65" fill="#20b2aa" fill-opacity="0.5" stroke="#20b2aa" stroke-opacity="0.5" stroke-width="0.7"/>
<circle cx="466.8" cy="361.2" r="1.65" fill="#20b2aa" fill-opacity="0.5" stroke="#20b2aa" stroke-opacity="0.5" stroke-width="0.7"/>
<circle cx="476.1" cy="371.0" r="1.65" fill="#20b2aa" fill-opacity="0.5" stroke="#20b2aa" stroke-opacity="0.5" stroke-width="0.7"/>
<circle cx="488.5" cy="364.7" r="1.65" fill="#20b2aa" fill-opacity="0.5" stroke="#20b2aa" stroke-opacity="0.5" stroke-width="0.7"/>
<circle cx="445.2" cy="371.1" r="1.65" fill="#20b2aa" fill-opacity="0.5" stroke="#20b2aa" stroke-opacity="0.5" stroke-width="0.7"/>
<circle cx="450.7" cy="359.8" r="1.65" fill="#20b2aa" fill-opacity="0.5" stroke="#20b2aa" stroke-opacity="0.5" stroke-width="0.7"/>
<circle cx="449.9" cy="362.0" r="1.65" fill="#20b2aa" fill-opacity="0.5" stroke="#20b2aa" stroke-opacity="0.5" stroke-width="0.7"/>
<circle cx="460.3" cy="364.8" r="1.65" fill="#20b2aa" fill-opacity="0.5" stroke="#20b2aa" stroke-opacity="0.5" stroke-width="0.7"/>
<circle cx="484.6" cy="344.8" r="1.65" fill="#20b2aa" fill-opacity="0.5" stroke="#20b2aa" stroke-opacity="0.5" stroke-width="0.7"/>
<circle cx="467.7" cy="370.6" r="1.65" fill="#20b2aa" fill-opacity="0.5" stroke="#20b2aa" stroke-opacity="0.5" stroke-width="0.7"/>
<circle cx="470.6" cy="366.8" r="1.65" fill="#20b2aa" fill-opacity="0.5" stroke="#20b2aa" stroke-opacity="0.5" stroke-width="0.7"/>
<circle cx="473.5" cy="348.9" r="1.65" fill="#20b2aa" fill-opacity="0.5" stroke="#20b2aa" stroke-opacity="0.5" stroke-width="0.7"/>
<circle cx="480.5" cy="351.4" r="1.65" fill="#20b2aa" fill-opacity="0.5" stroke="#20b2aa" stroke-opacity="0.5" stroke-width="0.7"/>
<circle cx="500.1" cy="355.4" r="1.65" fill="#20b2aa" fill-opacity="0.5" stroke="#20b2aa" stroke-opacity="0.5" stroke-width="0.7"/>
<circle cx="482.3" cy="362.0" r="1.65" fill="#20b2aa" fill-opacity="0.5" stroke="#20b2aa" stroke-opacity="0.5" stroke-width="0.7"/>
<circle cx="486.3" cy="354.2" r="1.65" fill="#20b2aa" fill-opacity="0.5" stroke="#20b2aa" stroke-opacity="0.5" stroke-width="0.7"/>
<circle cx="487.0" cy="360.4" r="1.65" fill="#20b2aa" fill-opacity="0.5" stroke="#20b2aa" stroke-opacity="0.5" stroke-width="0.7"/>
<circle cx="490.9" cy="370.1" r="1.65" fill="#20b2aa" fill-opacity="0.5" stroke="#20b2aa" stroke-opacity="0.5" stroke-width="0.7"/>
<circle cx="474.1" cy="351.9" r="1.65" fill="#20b2aa" fill-opacity="0.5" stroke="#20b2aa" stroke-opacity="0.5" stroke-width="0.7"/>
<circle cx="483.5" cy="368.1" r="1.65" fill="#20b2aa" fill-opacity="0.5" stroke="#20b2aa" stroke-opacity="0.5" stroke-width="0.7"/>
<circle cx="496.6" cy="357.1" r="1.65" fill="#20b2aa" fill-opacity="0.5" stroke="#20b2aa" stroke-opacity="0.5" stroke-width="0.7"/>
<circle cx="480.3" cy="368.6" r="1.65" fill="#20b2aa" fill-opacity="0.5" stroke="#20b2aa" stroke-opacity="0.5" stroke-width="0.7"/>
<circle cx="476.2" cy="364.7" r="1.65" fill="#20b2aa" fill-opacity="0.5" stroke="#20b2aa" stroke-opacity="0.5" stroke-width="0.7"/>
<circle cx="474.7" cy="354.2" r="1.65" fill="#20b2aa" fill-opacity="0.5" stroke="#20b2aa" stroke-opacity="0.5" stroke-width="0.7"/>
<circle cx="456.8" cy="356.8" r="1.65" fill="#20b2aa" fill-opacity="0.5" stroke="#20b2aa" stroke-opacity="0.5" stroke-width="0.7"/>
<circle cx="480.9" cy="381.6" r="1.65" fill="#20b2aa" fill-opacity="0.5" stroke="#20b2aa" stroke-opacity="0.5" stroke-width="0.7"/>
<circle cx="486.7" cy="375.7" r="1.65" fill="#20b2aa" fill-opacity="0.5" stroke="#20b2aa" stroke-opacity="0.5" stroke-width="0.7"/>
<circle cx="483.7" cy="371.1" r="1.65" fill="#20b2aa" fill-opacity="0.5" stroke="#20b2aa" stroke-opacity="0.5" stroke-width="0.7"/>
<circle cx="474.8" cy="372.0" r="1.65" fill="#20b2aa" fill-opacity="0.5" stroke="#20b2aa" stroke-opacity="0.5" stroke-width="0.7"/>
<circle cx="498.6" cy="357.7" r="1.65" fill="#20b2aa" fill-opacity="0.5" stroke="#20b2aa" stroke-opacity="0.5" stroke-width="0.7"/>
<circle cx="475.7" cy="374.6" r="1.65" fill="#20b2aa" fill-opacity="0.5" stroke="#20b2aa" stroke-opacity="0.5" stroke-width="0.7"/>
<path d="M362.9 243.5H633.5V445H362.9Z" fill="none" stroke="#222" stroke-width="1.2"/>
<path d="M388.5 445V447.5" stroke="#222" stroke-width="0.9"/>
<text x="388.5" y="456.3" font-family='"Liberation Sans", sans-serif' font-size="8.6" font-weight="normal" fill="#222" text-anchor="middle" textLength="11.2" lengthAdjust="spacingAndGlyphs" >0.5</text>
<path d="M440.5 445V447.5" stroke="#222" stroke-width="0.9"/>
<text x="440.5" y="456.3" font-family='"Liberation Sans", sans-serif' font-size="8.6" font-weight="normal" fill="#222" text-anchor="middle" textLength="11.2" lengthAdjust="spacingAndGlyphs" >1.0</text>
<path d="M492.5 445V447.5" stroke="#222" stroke-width="0.9"/>
<text x="492.5" y="456.3" font-family='"Liberation Sans", sans-serif' font-size="8.6" font-weight="normal" fill="#222" text-anchor="middle" textLength="11.2" lengthAdjust="spacingAndGlyphs" >1.5</text>
<path d="M544.5 445V447.5" stroke="#222" stroke-width="0.9"/>
<text x="544.5" y="456.3" font-family='"Liberation Sans", sans-serif' font-size="8.6" font-weight="normal" fill="#222" text-anchor="middle" textLength="11.2" lengthAdjust="spacingAndGlyphs" >2.0</text>
<path d="M596.5 445V447.5" stroke="#222" stroke-width="0.9"/>
<text x="596.5" y="456.3" font-family='"Liberation Sans", sans-serif' font-size="8.6" font-weight="normal" fill="#222" text-anchor="middle" textLength="11.2" lengthAdjust="spacingAndGlyphs" >2.5</text>
<path d="M360.4 431.5H362.9" stroke="#222" stroke-width="0.9"/>
<text x="357.6" y="434.5" font-family='"Liberation Sans", sans-serif' font-size="8.6" font-weight="normal" fill="#222" text-anchor="end" textLength="11" lengthAdjust="spacingAndGlyphs" >0.8</text>
<path d="M360.4 409.0H362.9" stroke="#222" stroke-width="0.9"/>
<text x="357.6" y="412.0" font-family='"Liberation Sans", sans-serif' font-size="8.6" font-weight="normal" fill="#222" text-anchor="end" textLength="11" lengthAdjust="spacingAndGlyphs" >0.9</text>
<path d="M360.4 386.4H362.9" stroke="#222" stroke-width="0.9"/>
<text x="357.6" y="389.4" font-family='"Liberation Sans", sans-serif' font-size="8.6" font-weight="normal" fill="#222" text-anchor="end" textLength="11" lengthAdjust="spacingAndGlyphs" >1.0</text>
<path d="M360.4 363.9H362.9" stroke="#222" stroke-width="0.9"/>
<text x="357.6" y="366.9" font-family='"Liberation Sans", sans-serif' font-size="8.6" font-weight="normal" fill="#222" text-anchor="end" textLength="11" lengthAdjust="spacingAndGlyphs" >1.1</text>
<path d="M360.4 341.4H362.9" stroke="#222" stroke-width="0.9"/>
<text x="357.6" y="344.4" font-family='"Liberation Sans", sans-serif' font-size="8.6" font-weight="normal" fill="#222" text-anchor="end" textLength="11" lengthAdjust="spacingAndGlyphs" >1.2</text>
<path d="M360.4 318.8H362.9" stroke="#222" stroke-width="0.9"/>
<text x="357.6" y="321.8" font-family='"Liberation Sans", sans-serif' font-size="8.6" font-weight="normal" fill="#222" text-anchor="end" textLength="11" lengthAdjust="spacingAndGlyphs" >1.3</text>
<path d="M360.4 296.3H362.9" stroke="#222" stroke-width="0.9"/>
<text x="357.6" y="299.3" font-family='"Liberation Sans", sans-serif' font-size="8.6" font-weight="normal" fill="#222" text-anchor="end" textLength="11" lengthAdjust="spacingAndGlyphs" >1.4</text>
<path d="M360.4 273.8H362.9" stroke="#222" stroke-width="0.9"/>
<text x="357.6" y="276.8" font-family='"Liberation Sans", sans-serif' font-size="8.6" font-weight="normal" fill="#222" text-anchor="end" textLength="11" lengthAdjust="spacingAndGlyphs" >1.5</text>
<path d="M360.4 251.2H362.9" stroke="#222" stroke-width="0.9"/>
<text x="357.6" y="254.2" font-family='"Liberation Sans", sans-serif' font-size="8.6" font-weight="normal" fill="#222" text-anchor="end" textLength="11" lengthAdjust="spacingAndGlyphs" >1.6</text>
<path d="M465.2 344.4L469.8 352.4L460.6 352.4Z" fill="#0000ff"/>
<rect x="440.9" y="379.0" width="5.2" height="5.2" fill="#ff0000"/>
<rect x="403.75" y="248.4" width="224.35000000000002" height="50.70000000000002" rx="2" fill="#fff" fill-opacity="0.8" stroke="#d6d6d6" stroke-width="1"/>
<circle cx="418.35" cy="258.2" r="2.1" fill="#20b2aa" fill-opacity="0.5"/>
<path d="M418.35 269.59999999999997L422.65000000000003 277.2L414.05 277.2Z" fill="#0000ff"/>
<rect x="415.95000000000005" y="286.90000000000003" width="4.8" height="4.8" fill="#ff0000"/>
<text x="437.75" y="260.9" font-family='"Liberation Sans", sans-serif' font-size="11.4" font-weight="normal" fill="#111" text-anchor="start" textLength="134" lengthAdjust="spacingAndGlyphs" >Sample w/ Augmentation</text>
<text x="437.75" y="276.6" font-family='"Liberation Sans", sans-serif' font-size="11.4" font-weight="normal" fill="#111" text-anchor="start" textLength="178.8" lengthAdjust="spacingAndGlyphs" >Mean of sample w/ Augmentation</text>
<text x="437.75" y="292.0" font-family='"Liberation Sans", sans-serif' font-size="11.4" font-weight="normal" fill="#111" text-anchor="start" textLength="186.5" lengthAdjust="spacingAndGlyphs" >Mean of Sample w/o Augmentation</text>
<text x="18.75" y="222.5" font-family='"Liberation Serif", serif' font-size="20.5" font-weight="bold" fill="#000" text-anchor="start" textLength="281.6" lengthAdjust="spacingAndGlyphs" >(a) Spectral Distance and Bias</text>
<text x="380.2" y="222.5" font-family='"Liberation Serif", serif' font-size="20.5" font-weight="bold" fill="#000" text-anchor="start" textLength="200.6" lengthAdjust="spacingAndGlyphs" >(b) Bias and accuracy</text>
<text x="42.5" y="480.6" font-family='"Liberation Serif", serif' font-size="20.5" font-weight="bold" fill="#000" text-anchor="start" textLength="234.2" lengthAdjust="spacingAndGlyphs" >(c) High-bias embedding</text>
<text x="366.25" y="480.6" font-family='"Liberation Serif", serif' font-size="20.5" font-weight="bold" fill="#000" text-anchor="start" textLength="227.5" lengthAdjust="spacingAndGlyphs" >(d) Low-bias embedding</text>
<text x="0.8" y="512.3" font-family='"Liberation Serif", serif' font-size="19.8" font-weight="bold" fill="#000" text-anchor="start" textLength="640.5" lengthAdjust="spacingAndGlyphs" >Figure 2: The bias observation of four pre-defined augmentation</text>
</svg>
</body></html>
